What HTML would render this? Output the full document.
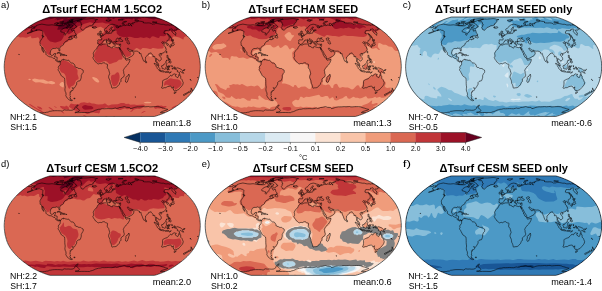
<!DOCTYPE html>
<html><head><meta charset="utf-8"><title>fig</title>
<style>html,body{margin:0;padding:0;background:#fff}svg{display:block;will-change:transform}text{font-family:"Liberation Sans",sans-serif;fill:#000}.t{font-weight:bold;font-size:10px}.l{font-size:9.8px}.s{font-size:8.5px}.k{font-size:6.6px}</style></head>
<body>
<svg width="602" height="291" viewBox="0 0 602 291">
<rect width="602" height="291" fill="#fff"/>
<defs><path id="coast" d="M31.9,8.6L34.8,7.7L37.7,7.1L39.7,7.5L42.6,8.0L44.8,8.1L47.9,7.8L49.2,8.0L52.2,8.6L54.8,8.8L57.5,8.9L59.3,8.7L61.5,7.0L62.1,7.3L62.2,8.0L63.0,8.6L64.6,8.0L65.8,8.0L65.4,9.1L63.2,9.6L61.9,10.7L59.8,11.2L57.5,12.6L56.4,13.9L56.7,14.9L58.5,15.3L59.5,15.9L60.8,16.1L60.0,17.5L60.6,18.3L61.5,17.7L61.7,16.4L63.5,15.2L64.2,13.5L64.9,11.9L66.5,12.0L67.9,12.6L67.5,13.9L68.4,14.2L69.9,13.0L70.4,14.3L70.5,15.6L71.7,16.7L72.1,17.8L70.6,18.4L69.7,18.9L67.8,18.9L66.3,19.3L64.3,20.7L66.0,19.9L67.3,19.6L67.0,20.6L67.2,21.4L68.5,21.3L68.3,21.9L66.7,22.5L65.6,22.9L65.8,22.0L65.1,22.1L63.6,22.8L63.0,23.5L63.2,24.0L62.1,24.3L61.0,24.7L60.7,25.4L59.9,26.0L59.4,26.9L59.3,27.8L58.4,28.5L57.2,29.2L55.8,30.3L55.5,31.4L55.7,33.1L55.5,34.1L55.0,34.0L54.5,32.6L54.7,31.7L54.0,31.2L53.3,31.4L52.3,31.0L51.4,31.1L51.1,31.7L50.1,31.5L48.8,31.5L47.6,32.2L46.8,32.9L46.2,34.9L45.9,36.2L46.4,37.7L47.1,38.3L48.2,38.4L49.1,38.1L49.7,36.8L50.8,36.5L51.6,36.6L51.0,38.0L50.7,38.9L50.2,39.9L51.7,39.9L53.0,40.4L52.9,42.0L52.6,43.1L53.3,44.1L54.1,44.3L54.8,43.8L55.7,44.1L56.1,44.6L55.8,45.3L54.9,44.3L54.3,45.2L53.3,44.7L52.5,44.2L51.5,43.6L51.5,42.6L50.7,41.7L49.7,41.4L48.6,41.1L47.7,40.2L46.9,39.7L45.8,40.0L44.5,39.4L43.3,38.7L42.3,38.0L41.6,37.2L41.9,35.9L41.0,34.6L40.2,33.4L39.7,32.5L39.1,31.2L38.4,30.2L38.1,31.2L38.7,32.5L39.1,33.7L39.5,34.8L39.7,35.5L39.4,35.4L38.6,34.3L37.8,33.0L37.7,31.8L37.4,30.3L37.3,29.4L37.0,28.8L36.0,28.4L35.9,27.2L35.9,26.4L35.7,25.4L35.8,24.8L36.7,23.2L38.0,21.3L38.5,20.0L39.4,19.9L39.5,19.4L38.9,18.7L38.3,18.1L38.6,17.2L38.5,16.4L38.6,15.5L38.7,14.5L38.3,14.0L37.6,13.9L37.2,13.3L35.8,13.2L35.0,12.7L33.6,13.1L32.4,13.5L31.5,13.7L33.0,12.6L31.9,13.0L30.4,13.9L28.6,14.6L26.6,15.5L24.6,16.1L22.9,16.4L24.9,15.6L26.9,14.8L28.6,14.0L27.7,13.9L27.2,13.5L27.6,13.0L26.8,12.6L27.9,11.7L29.1,11.4L30.6,11.1L30.9,10.6L29.6,10.7L29.3,10.3L29.0,10.0L30.9,9.6L31.7,9.7L32.2,9.2L31.9,8.7ZM72.6,3.8L73.4,4.5L74.2,4.8L76.4,4.8L76.8,5.8L77.0,7.3L77.9,7.8L76.7,8.6L76.9,9.6L76.1,10.4L76.7,11.5L77.0,12.5L78.3,13.1L79.1,13.3L79.8,12.4L80.8,11.4L81.7,10.4L83.1,10.0L85.2,8.8L87.3,8.6L89.0,7.8L88.6,7.0L89.7,6.6L89.9,5.8L90.9,5.3L91.3,4.3L90.8,3.7L91.8,3.0L93.4,2.5L91.1,2.3L90.0,1.9L87.5,1.6L84.5,1.9L81.8,2.1L79.1,2.1L77.2,2.5L75.5,2.9L75.4,3.3L72.6,3.8ZM64.6,6.1L66.3,5.9L68.0,5.9L68.9,6.4L69.8,7.0L70.6,7.5L71.4,8.1L71.4,8.8L72.7,9.5L72.7,9.9L71.3,10.2L70.7,11.2L69.5,11.9L68.8,11.6L67.9,11.1L67.1,10.7L65.7,10.8L65.9,10.2L67.9,9.6L68.9,8.7L67.8,8.3L67.1,7.8L66.0,7.8L64.6,7.8L63.7,7.4L63.9,6.8L64.6,6.1ZM53.4,6.4L55.1,6.3L56.8,6.4L58.6,6.1L57.9,7.0L58.3,7.8L56.8,8.4L55.2,8.4L52.9,8.5L52.1,8.1L52.3,7.5L54.1,7.1L53.4,6.4ZM50.1,6.8L52.1,5.7L53.7,5.6L54.5,6.1L52.5,6.9L50.7,7.1L50.1,6.8ZM65.5,4.5L67.2,4.6L69.3,4.6L70.7,4.1L72.1,3.4L74.4,3.0L76.5,2.5L77.9,2.0L76.2,1.9L73.0,1.8L69.7,2.1L67.5,2.5L69.2,2.8L67.5,3.7L68.3,3.9L66.6,4.2L65.5,4.5ZM63.0,5.1L64.2,5.4L66.3,5.5L68.6,5.4L69.0,5.0L67.3,4.9L66.0,4.7L64.3,4.6L63.0,5.1ZM55.3,5.1L56.7,5.5L59.1,5.3L59.8,4.8L58.7,4.5L56.5,4.6L55.3,5.1ZM64.6,3.8L66.7,3.8L68.4,3.2L67.8,2.6L66.0,2.9L64.6,3.8ZM59.3,6.5L60.9,6.9L61.9,6.3L63.3,6.4L64.3,5.8L62.8,5.7L61.1,5.9L59.3,6.5ZM62.2,10.2L63.4,10.2L64.2,11.0L62.9,11.6L62.1,11.2L62.2,10.2ZM69.6,20.4L70.5,19.3L71.6,18.1L72.0,18.4L71.6,19.0L72.2,19.3L72.6,19.9L72.7,20.6L72.2,21.0L71.3,20.9L70.7,20.5L69.6,20.4ZM37.7,18.5L38.7,18.7L39.1,19.9L38.4,19.8L37.8,19.0L37.7,18.5ZM52.7,36.3L53.9,35.5L55.0,35.4L56.0,35.9L57.0,36.4L57.7,37.0L58.4,37.3L57.6,37.5L56.5,37.5L56.8,37.0L56.1,36.8L55.1,36.2L54.4,36.0L53.5,36.2L52.7,36.3ZM58.1,38.3L58.8,37.5L59.8,37.5L60.6,37.6L61.4,38.3L60.5,38.4L59.8,38.8L59.1,38.5L58.1,38.3ZM56.0,38.4L56.7,38.3L57.1,38.6L56.6,38.8L56.0,38.4ZM62.0,38.4L62.8,38.4L62.7,38.6L62.0,38.6L62.0,38.4ZM56.0,44.5L56.3,44.8L56.9,43.9L57.2,43.1L58.0,42.8L59.0,42.3L59.5,42.1L59.2,42.9L59.4,43.1L60.2,42.6L61.0,42.9L62.3,43.2L63.2,43.4L64.5,43.1L65.0,43.9L65.5,44.5L66.3,45.4L67.1,46.0L68.1,46.0L69.0,46.3L69.9,47.0L70.3,47.9L70.8,48.8L70.7,49.7L71.6,50.0L71.9,50.5L73.0,50.5L73.8,51.3L75.2,51.5L76.3,51.5L77.4,52.2L77.9,52.7L78.9,53.1L79.1,54.4L78.9,55.6L78.0,56.5L77.5,57.6L77.0,58.7L77.1,60.2L76.8,61.4L76.2,63.2L75.7,63.9L74.4,64.0L73.4,64.5L72.5,65.5L72.5,67.2L71.9,68.2L71.1,69.6L70.5,70.7L69.8,71.3L68.7,71.0L67.9,70.7L68.7,71.6L69.0,72.4L68.7,73.3L67.8,73.7L66.8,73.8L66.9,74.9L65.6,75.0L66.3,75.9L65.9,76.5L66.1,77.4L65.4,78.2L66.4,79.1L66.0,80.1L65.6,80.9L66.3,81.9L65.8,82.0L66.6,82.3L67.7,83.1L68.3,83.3L67.7,83.6L66.8,83.7L65.3,83.0L64.1,82.2L63.2,81.3L62.2,79.8L61.6,78.5L61.9,77.4L61.6,75.6L61.0,74.4L60.7,72.9L60.8,71.6L61.0,70.1L60.7,68.2L60.6,66.7L60.6,64.5L60.5,62.4L60.3,61.1L59.6,60.5L58.5,59.8L57.5,59.2L56.8,58.2L56.3,57.1L55.6,55.9L54.9,54.4L54.1,53.4L53.9,52.5L54.4,51.8L54.5,51.1L54.0,50.3L54.4,49.3L55.1,48.9L55.4,48.1L56.0,47.4L56.0,46.3L56.0,45.4L55.7,45.2L56.0,44.5ZM69.5,81.3L70.9,81.2L70.8,81.8L69.8,81.8L69.5,81.3ZM95.2,27.5L94.8,27.1L94.3,26.8L93.5,26.9L93.6,26.0L93.3,25.8L93.7,24.5L93.5,23.2L94.1,22.8L95.6,22.9L97.2,23.0L97.5,22.3L97.5,21.4L97.0,20.7L95.8,20.0L96.6,19.7L97.3,19.8L97.2,19.2L98.1,19.3L98.8,18.5L99.7,18.2L100.1,17.5L100.4,17.1L101.3,16.9L102.0,16.8L102.0,16.1L101.7,14.9L102.3,14.8L102.7,14.5L102.7,15.4L102.5,15.9L103.0,16.7L103.5,16.5L104.5,16.7L105.6,16.4L106.5,16.2L107.1,16.4L107.6,15.9L107.4,14.9L108.0,14.5L108.9,14.8L108.8,14.2L108.3,13.6L109.4,13.5L110.3,13.4L111.1,13.2L110.4,12.9L108.9,13.0L108.0,13.3L107.3,12.8L107.1,12.1L107.5,11.2L108.4,10.4L107.9,10.0L107.1,10.0L106.9,10.7L106.1,11.4L105.5,12.1L105.5,12.8L106.2,13.2L106.0,13.8L105.4,14.5L105.4,15.2L104.6,15.5L104.5,15.8L103.9,15.8L103.7,15.2L103.0,14.0L102.6,13.5L102.2,13.8L101.6,14.3L100.9,14.2L100.5,13.8L100.2,12.9L100.2,12.1L101.0,11.5L102.0,11.1L102.8,10.4L103.3,9.6L103.9,8.8L104.8,8.3L105.5,7.8L106.6,7.5L108.0,7.2L109.1,7.4L110.1,7.6L110.0,7.9L111.3,8.1L112.8,8.5L114.3,9.0L114.8,9.5L114.4,9.8L113.1,9.7L112.1,9.6L111.5,9.6L112.3,10.2L112.5,10.7L113.7,11.0L113.8,10.5L114.7,10.6L114.4,10.2L115.2,9.7L116.1,9.8L115.6,9.1L115.6,8.6L116.7,8.8L116.7,9.4L117.4,9.1L119.1,8.5L120.4,8.6L121.7,8.5L121.8,7.9L123.3,8.2L124.7,8.5L125.5,8.6L124.3,7.8L123.9,7.0L124.1,6.4L125.5,6.4L126.2,7.3L126.7,8.6L127.9,9.1L126.6,7.8L126.5,6.8L126.8,6.6L127.8,6.8L129.1,6.9L128.2,6.0L130.1,5.9L130.0,5.3L131.4,4.9L133.3,4.7L134.0,4.3L134.7,4.0L136.1,4.3L137.9,4.5L139.4,5.1L138.7,5.5L140.0,5.9L142.2,6.0L144.0,5.9L145.6,6.0L147.2,6.5L147.9,7.3L148.8,7.0L150.3,7.0L151.2,6.6L151.4,6.4L153.6,6.6L155.7,7.0L157.1,7.3L159.2,7.3L160.9,7.9L162.5,8.0L163.9,7.8L165.6,8.3L165.9,7.9L167.7,8.0L169.4,8.4L172.5,10.4L172.3,10.7L171.5,10.6L173.8,11.5L174.3,11.9L173.1,12.1L172.4,12.4L172.1,13.2L170.5,13.0L169.5,13.3L170.2,14.2L170.3,14.5L171.2,15.2L171.6,16.1L171.9,17.1L171.4,17.4L171.6,18.4L170.2,17.2L168.3,15.5L167.7,14.5L167.8,13.5L168.2,12.4L167.7,11.8L166.7,12.2L165.2,12.2L165.4,13.3L164.4,13.8L162.0,13.6L160.5,13.7L160.0,14.9L159.7,16.2L161.1,16.8L162.3,16.7L163.4,17.2L164.0,18.4L165.1,20.0L165.0,21.1L164.8,22.3L164.2,23.2L163.1,23.4L162.6,23.9L162.8,24.5L162.3,25.1L162.2,25.4L163.1,26.1L164.0,27.0L164.3,28.0L163.8,28.3L163.1,28.5L162.6,27.5L162.5,26.7L161.5,26.4L161.1,25.4L160.5,25.1L159.4,25.7L159.1,24.8L158.4,24.6L157.6,25.6L157.6,26.0L158.4,26.6L159.3,26.4L160.4,26.8L159.8,27.2L159.3,28.0L160.3,29.1L161.4,30.3L161.0,31.0L161.9,31.4L162.0,32.5L161.4,33.8L160.7,34.6L160.0,35.5L158.8,36.0L157.8,36.3L157.0,36.6L156.9,37.2L156.6,36.5L155.8,36.3L155.1,37.1L154.8,38.0L155.6,39.2L156.6,40.2L157.1,41.7L157.1,42.6L156.2,43.3L155.9,43.4L155.2,44.3L154.9,43.6L154.0,43.1L153.3,42.2L152.5,41.7L152.1,41.4L152.1,42.6L151.9,43.7L152.5,44.5L152.9,45.5L153.6,45.9L154.3,47.0L154.4,48.1L154.8,48.9L154.4,48.9L153.2,48.0L152.7,46.6L152.3,45.5L151.4,44.7L151.5,43.6L151.5,42.3L150.8,40.8L150.6,39.6L149.7,39.4L148.8,39.9L148.8,38.6L148.1,37.5L147.1,36.5L146.9,35.9L146.3,36.0L145.5,36.3L144.5,36.6L144.3,37.4L143.6,37.7L142.3,39.4L141.3,40.2L141.4,41.4L141.2,42.5L141.1,43.4L140.5,44.2L140.1,44.7L139.4,43.9L138.6,42.1L138.1,40.5L137.3,38.9L137.0,37.7L136.9,36.8L136.6,36.3L135.9,36.9L134.8,36.0L135.5,35.6L134.5,35.2L133.6,34.4L132.2,34.1L130.6,34.2L129.3,34.0L128.4,33.8L127.9,33.1L127.0,33.3L125.7,32.8L124.7,31.8L124.2,31.1L123.5,31.0L123.2,31.4L123.7,32.5L124.4,33.3L124.8,34.0L125.0,33.8L125.4,34.3L125.4,34.7L126.7,34.9L127.4,34.0L127.8,33.6L128.1,34.6L129.3,35.2L129.9,35.9L129.3,37.1L129.0,38.0L128.4,38.6L127.6,39.2L126.2,39.9L124.5,40.9L123.2,41.5L122.4,41.8L121.6,41.9L121.1,40.6L121.0,39.6L120.0,38.1L119.0,36.6L118.3,35.1L117.5,33.7L116.5,32.5L116.3,31.5L116.1,32.6L115.6,32.2L115.1,31.2L114.9,30.5L115.9,30.4L116.2,29.5L116.4,28.5L116.4,27.5L116.5,27.0L115.7,27.0L115.2,27.4L114.4,27.2L113.6,27.2L112.8,27.2L112.1,27.0L111.7,26.3L111.4,26.0L111.5,25.4L111.2,25.1L111.4,24.8L112.5,24.5L113.7,24.3L114.7,23.9L115.5,23.9L116.2,24.3L117.3,24.5L118.2,24.5L118.8,24.1L118.5,23.4L117.5,22.8L116.7,22.3L116.1,21.8L116.6,21.3L116.9,20.7L116.2,20.9L115.1,21.2L115.9,21.8L115.2,22.1L114.5,22.3L113.9,21.8L114.3,21.4L113.4,21.1L112.9,21.1L112.5,21.7L112.1,22.3L111.9,23.1L111.8,23.7L112.1,24.2L112.5,24.5L111.4,24.8L111.0,24.6L110.0,24.6L109.8,25.0L109.4,24.8L109.5,25.4L110.2,26.3L109.7,26.4L109.9,27.2L109.4,27.2L109.1,27.0L108.8,26.4L108.8,26.0L108.1,25.3L107.8,24.8L107.8,24.0L107.2,23.5L106.4,23.1L105.6,22.5L105.1,21.9L104.7,21.7L104.0,21.8L104.1,22.5L104.7,22.9L105.1,23.6L106.0,23.9L106.0,24.2L107.1,24.6L107.3,25.0L107.2,25.1L106.6,24.8L106.4,25.2L106.7,25.7L106.4,26.1L106.0,26.3L106.1,25.8L105.9,25.1L105.3,24.6L104.3,24.2L103.5,23.5L103.1,22.9L102.4,22.4L101.7,22.8L101.0,23.2L100.0,23.0L99.6,23.2L99.6,24.0L98.4,24.6L97.9,25.4L98.2,25.8L97.7,26.3L97.1,27.0L95.9,27.1L95.2,27.5ZM26.7,8.4L27.4,8.7L27.9,9.2L28.4,9.9L26.5,10.7L25.0,10.7L24.8,10.2L23.6,10.4M121.1,22.3L120.8,21.7L121.8,21.1L122.7,20.8L123.7,21.1L123.9,21.9L123.1,22.3L122.7,22.5L123.2,23.1L124.1,23.5L124.3,24.2L124.9,24.6L124.7,25.1L125.3,26.0L125.5,26.7L124.6,27.0L123.6,26.7L122.9,26.1L122.8,25.4L123.1,24.8L122.5,24.3L121.7,23.4L121.1,22.3ZM95.4,19.0L96.4,18.8L97.1,18.6L98.3,18.5L98.7,18.3L98.4,18.1L98.8,17.4L98.2,17.2L98.0,16.9L97.5,16.3L97.3,15.8L96.9,15.5L97.2,14.6L96.5,14.5L96.6,14.0L95.8,14.0L95.5,14.6L95.5,15.4L95.9,15.8L95.8,16.2L96.5,16.1L96.7,16.7L96.6,17.1L96.0,17.1L96.1,17.7L95.6,17.9L96.3,18.1L96.6,18.2L96.0,18.4L95.4,19.0ZM95.2,17.7L95.3,17.1L95.5,16.4L95.1,16.0L94.3,16.0L94.2,16.4L93.5,16.5L93.7,17.1L93.6,17.5L93.3,17.9L94.1,18.1L95.2,17.7ZM88.2,10.2L88.9,9.7L89.6,10.1L90.7,9.8L91.5,9.7L92.1,10.0L92.4,10.4L91.8,10.8L90.5,11.3L89.4,11.2L88.6,11.0L88.9,10.6L88.1,10.5L88.9,10.3L88.2,10.2ZM101.9,3.7L101.8,3.1L103.5,3.0L104.8,2.8L107.2,3.0L106.3,3.3L105.3,3.6L105.6,4.0L104.1,4.5L103.2,4.1L101.9,3.7ZM117.8,7.0L118.1,6.4L118.7,5.8L118.5,5.2L119.7,4.7L121.2,4.4L122.4,4.4L122.0,4.9L120.4,5.2L119.6,5.8L119.2,6.4L120.4,7.4L119.2,7.4L118.5,7.2L117.8,7.0ZM130.7,3.4L130.6,2.8L131.2,2.5L133.5,3.2L134.5,3.7L133.0,3.9L130.7,3.4ZM148.1,5.1L149.0,4.8L151.2,5.1L152.9,5.2L151.7,5.4L150.1,5.5L148.1,5.1ZM166.9,7.2L167.2,7.0L167.8,7.3L166.9,7.2ZM113.9,2.9L115.4,2.7L117.4,2.6L118.9,2.8L117.0,3.0L113.9,2.9ZM104.4,26.3L105.9,26.1L105.7,27.1L104.4,26.5L104.4,26.3ZM102.1,24.5L102.8,24.5L102.9,25.6L102.3,25.7L102.1,24.5ZM102.3,23.5L102.7,23.2L102.7,24.2L102.4,24.1L102.3,23.5ZM110.1,27.8L111.5,28.0L110.6,28.2L110.1,27.8ZM114.6,28.1L115.7,27.8L115.4,28.3L114.9,28.4L114.6,28.1ZM95.0,27.7L96.0,28.0L97.0,28.1L98.0,27.6L99.6,27.0L101.1,27.0L102.4,27.0L103.1,26.7L103.7,26.9L103.4,27.8L103.7,28.8L103.3,28.9L104.0,29.3L104.8,29.4L106.0,29.8L106.3,30.4L107.2,30.7L108.0,31.0L108.5,30.6L108.4,29.8L109.2,29.4L110.1,29.8L111.1,30.2L112.4,30.5L113.2,30.7L114.2,30.3L114.9,30.5L115.1,31.2L115.6,32.5L116.3,33.8L116.9,34.9L117.0,35.5L117.7,36.2L117.9,36.8L118.0,38.1L118.7,38.6L119.3,40.2L120.3,40.8L121.0,41.5L121.5,42.0L121.3,42.6L122.2,43.3L123.5,42.8L124.6,42.8L125.8,42.4L125.7,43.3L125.2,44.8L124.4,46.3L123.1,48.2L122.0,49.1L120.9,50.5L120.1,51.5L119.5,52.6L119.1,53.7L119.5,54.7L119.5,56.2L120.0,57.4L120.0,58.7L119.6,59.7L118.7,60.3L117.8,61.0L116.8,61.9L116.7,63.0L116.9,64.2L116.0,65.3L115.4,65.8L115.3,66.7L115.0,67.5L114.3,68.2L113.7,69.0L112.7,69.9L111.7,70.6L110.4,70.8L109.4,70.8L108.3,71.2L107.6,70.9L107.5,70.0L107.2,68.8L106.7,67.4L106.1,66.4L105.9,64.8L105.7,63.5L105.1,62.1L104.5,60.8L104.4,59.6L104.8,58.1L105.5,56.8L105.2,55.3L104.7,53.7L104.6,52.8L104.0,52.1L103.2,51.0L103.0,50.2L103.2,49.1L103.4,47.9L103.2,47.3L102.6,47.0L101.6,47.1L100.8,46.3L100.2,45.8L99.1,45.8L98.0,46.2L97.0,46.8L96.1,46.5L95.1,46.6L94.0,47.0L93.2,46.5L92.1,45.5L91.3,45.1L90.8,44.2L90.2,43.3L89.4,42.3L89.0,41.4L88.6,40.7L89.2,39.9L89.4,38.6L89.3,37.7L89.0,36.8L89.5,35.2L90.1,34.3L90.7,33.4L91.5,32.5L92.5,31.8L93.0,30.9L93.0,30.2L93.7,29.2L94.5,28.7L95.0,27.7ZM124.7,57.1L125.2,59.2L124.7,60.2L124.2,62.1L123.5,63.9L123.0,65.1L122.0,65.5L121.4,65.0L121.2,63.6L121.8,62.1L121.7,60.5L122.3,59.6L123.4,59.2L124.0,58.2L124.7,57.1ZM141.4,43.7L142.1,44.5L142.5,45.2L142.1,46.0L141.6,46.0L141.4,44.8L141.4,43.7ZM156.3,37.8L157.2,37.4L157.5,37.7L156.9,38.4L156.3,37.8ZM162.0,35.5L162.2,34.3L162.6,34.3L162.6,35.2L162.5,36.2L162.0,35.5ZM165.8,30.4L165.1,29.4L165.4,28.9L165.5,28.6L166.0,27.9L167.2,27.7L167.6,27.5L167.6,26.7L168.0,27.0L168.5,26.5L168.4,25.4L168.0,24.6L168.5,24.2L169.3,25.1L169.7,25.7L169.5,26.3L169.9,27.0L170.1,27.7L169.8,28.1L169.4,28.3L168.5,28.4L168.5,28.6L168.1,29.1L167.5,28.5L166.8,28.5L167.4,28.9L167.0,29.4L166.3,29.1L166.3,29.5L166.4,30.4L165.8,30.4ZM167.8,24.2L167.2,23.1L167.7,22.9L167.1,21.8L168.4,22.5L169.7,23.0L169.0,23.4L169.2,23.9L168.1,23.5L168.2,24.0L167.8,24.2ZM167.0,21.4L166.1,20.2L165.0,18.7L164.0,17.5L163.3,16.5L164.4,17.4L165.3,18.4L166.5,19.4L166.2,19.7L166.7,20.6L167.4,21.0L167.0,21.4ZM162.7,38.3L163.6,38.3L163.8,39.2L163.6,40.0L163.9,41.1L165.1,41.7L165.0,41.9L164.2,41.3L163.4,41.3L163.1,40.8L162.7,40.2L162.8,39.6L162.7,38.3ZM164.3,45.4L164.8,44.5L165.7,44.5L166.1,43.7L166.7,44.5L166.8,45.4L166.3,46.2L165.7,45.9L165.4,45.2L164.8,45.1L164.3,45.4ZM164.1,42.5L164.8,42.6L164.7,43.6L164.2,43.3L164.1,42.5ZM165.3,42.0L165.9,42.1L165.9,42.9L165.7,43.4L165.4,42.8L165.3,42.0ZM161.7,44.5L162.8,42.8L162.9,43.3L161.9,44.6L161.7,44.5ZM157.4,48.8L157.8,48.5L158.6,48.8L158.8,48.1L159.6,47.7L160.1,47.0L160.9,46.5L161.5,45.4L162.0,45.8L162.9,46.5L162.3,47.1L162.1,47.9L162.3,49.1L162.1,49.7L161.5,50.7L161.5,51.6L161.2,52.2L160.4,52.3L159.6,51.7L158.7,51.8L157.9,51.5L158.0,50.7L157.4,50.0L157.4,48.8ZM149.9,46.3L151.1,46.5L151.7,47.3L152.8,48.4L153.3,48.6L154.2,49.4L154.5,50.3L155.0,50.8L155.7,51.7L155.6,53.4L154.9,53.3L153.7,52.2L153.0,51.3L152.7,50.3L152.0,49.4L151.8,48.7L150.8,47.7L149.9,46.3ZM155.3,53.9L155.8,53.4L157.0,53.8L158.3,53.7L159.3,54.0L160.2,54.5L160.1,55.1L158.3,54.8L156.7,54.5L155.9,54.3L155.3,53.9ZM163.0,53.1L163.0,51.9L162.7,51.5L163.3,49.9L163.4,49.2L163.9,48.9L165.0,49.1L166.1,48.7L165.8,49.5L164.5,49.4L163.6,49.4L163.5,50.3L164.2,50.3L165.2,50.3L164.9,50.7L164.2,50.9L164.6,51.8L165.0,52.3L164.9,53.1L164.4,52.7L164.1,52.6L163.9,51.4L163.6,51.9L163.5,53.1L163.0,53.1ZM165.0,56.1L165.9,55.3L167.1,54.9L166.1,55.7L165.0,56.1ZM161.0,55.0L162.1,54.8L163.2,54.9L164.7,54.8L164.7,55.2L163.2,55.2L162.1,55.2L161.0,55.2L161.0,55.0ZM167.5,48.5L167.8,49.4L168.0,50.2L167.8,49.5L168.1,48.8L167.5,48.5ZM167.7,51.6L169.3,51.6L168.8,52.0L167.7,51.8L167.7,51.6ZM169.4,50.2L170.2,50.0L171.0,50.2L171.1,51.0L171.5,51.8L172.4,51.1L172.9,50.7L173.7,51.0L174.8,51.3L175.9,51.8L176.7,52.1L177.4,52.8L178.2,53.4L178.3,54.4L178.8,55.3L179.7,56.2L178.8,56.1L178.0,55.9L177.3,55.0L176.3,54.5L175.8,55.2L175.4,55.4L174.6,55.3L173.8,54.8L173.2,54.8L173.0,54.0L173.5,53.7L173.0,53.0L172.0,52.6L171.2,52.2L170.4,52.2L170.3,51.5L170.9,51.1L169.9,51.0L169.4,50.2ZM178.8,53.2L179.9,53.1L180.8,52.3L180.8,52.8L179.9,53.6L178.8,53.2ZM158.6,63.6L158.3,64.8L158.4,66.1L158.3,67.6L158.1,69.2L157.3,70.9L157.9,71.3L158.6,71.3L159.9,70.7L161.7,70.7L162.5,70.1L163.4,69.6L165.1,69.3L166.2,69.2L166.9,69.5L167.5,70.0L167.7,71.2L168.4,70.7L169.4,69.9L168.8,71.3L169.0,71.7L169.4,71.9L169.1,73.0L169.6,73.4L170.5,73.7L171.4,73.2L171.9,73.8L173.1,73.1L174.3,72.7L175.2,71.6L176.0,70.7L177.2,69.6L177.8,68.8L178.7,67.3L179.0,65.8L179.0,65.1L178.3,64.2L178.2,63.6L177.7,62.4L177.0,61.7L176.5,61.4L176.5,60.5L176.5,59.0L176.0,58.5L175.5,58.5L175.6,57.4L175.3,56.4L174.9,57.1L174.6,58.1L174.3,59.3L173.8,60.5L173.0,60.5L172.3,59.9L171.3,59.3L171.1,58.9L171.5,58.1L172.1,57.3L171.1,57.3L169.9,56.8L169.2,57.3L168.6,57.5L168.1,58.4L167.9,59.0L167.3,58.9L166.6,58.3L165.8,58.7L165.1,59.6L164.4,60.3L163.7,60.8L163.0,61.8L161.7,62.1L160.6,62.5L159.7,63.0L159.0,63.2L158.6,63.6ZM170.4,74.8L171.2,75.1L172.1,74.9L171.7,75.6L170.8,76.3L170.0,76.6L170.0,75.9L170.4,74.8ZM186.9,70.9L187.1,71.4L187.2,72.1L187.6,72.4L187.4,72.9L188.0,73.1L188.7,73.0L187.9,73.8L187.2,74.0L186.7,74.6L185.3,75.4L185.3,75.1L185.9,74.5L185.8,74.1L185.6,74.0L186.5,73.3L186.9,72.7L187.0,71.9L186.9,70.9ZM184.5,74.7L184.8,75.0L184.7,75.5L183.5,76.2L183.0,76.7L182.0,77.0L181.0,78.0L180.0,78.4L179.4,78.3L178.9,78.0L179.6,77.4L180.8,76.8L181.9,76.3L183.0,75.7L183.9,75.0L184.5,74.7ZM185.8,62.2L186.9,63.2L187.0,63.5L186.3,63.1L185.8,62.2ZM14.6,37.3L15.1,37.5L14.6,38.0L14.6,37.3ZM130.8,79.8L131.5,80.0L131.0,80.3L130.8,79.8ZM193.3,60.5L194.0,60.6L193.6,61.0L193.3,60.5ZM35.3,95.7L38.4,95.8L40.6,95.7L42.1,95.3L44.0,95.1L44.9,94.4L46.7,94.2L48.2,93.9L50.4,93.7L53.4,93.7L56.2,93.8L58.4,94.2L59.2,93.2L60.1,92.9L62.2,93.2L64.0,93.1L66.1,93.3L67.9,93.2L69.2,92.9L69.8,92.2L70.9,91.4L70.9,90.4L71.4,89.6L72.3,88.8L73.4,88.1L74.1,88.2L73.5,88.8L72.9,89.2L72.6,89.8L72.2,90.6L73.6,91.4L74.4,92.4L75.2,93.2L75.1,93.9L74.8,94.4L73.0,94.9L70.9,95.3L73.7,95.7L77.0,95.5L80.5,95.5L83.4,95.6L85.5,95.6L86.3,95.1L88.3,94.6L89.9,93.9L91.3,93.2L92.7,92.8L94.2,92.3L96.1,92.2L98.0,91.7L100.0,91.8L102.0,91.7L103.9,91.6L105.9,91.7L107.8,91.8L109.9,91.3L111.2,91.0L112.2,91.4L113.9,91.2L115.3,90.5L117.0,90.4L118.3,90.1L120.2,89.6L121.2,89.9L122.2,90.3L123.8,90.4L125.3,90.5L125.9,90.9L126.3,91.6L127.6,91.4L129.2,90.8L130.3,90.4L131.7,90.1L133.5,89.8L134.6,89.9L136.7,89.8L139.0,89.6L140.8,89.8L143.1,89.6L144.4,89.5L145.6,89.9L146.8,89.9L149.1,89.7L151.3,89.6L153.3,89.6L155.1,89.8L156.0,90.1L156.7,90.5L157.9,90.8L159.4,91.2L160.7,91.7L161.5,91.9L162.6,92.2L163.6,92.4L162.1,93.2L159.7,93.9L157.5,94.6L156.1,95.5L156.6,95.7L159.3,95.6L160.8,95.7"/><path id="bnd" d="M150.23,99.46L152.05,98.96L154.15,98.27L156.48,97.43L158.97,96.45L161.55,95.35L164.06,94.17L166.37,92.94L168.51,91.68L170.56,90.37L172.54,89.03L174.47,87.66L176.35,86.26L178.17,84.84L179.92,83.39L181.59,81.93L183.15,80.44L184.58,78.95L185.92,77.44L187.21,75.92L188.41,74.39L189.50,72.85L190.48,71.31L191.38,69.77L192.18,68.23L192.87,66.69L193.45,65.15L193.93,63.61L194.35,62.06L194.76,60.52L195.12,58.98L195.42,57.44L195.65,55.90L195.83,54.36L195.96,52.81L196.05,51.27L196.10,49.73L196.05,48.19L195.96,46.65L195.83,45.11L195.65,43.56L195.42,42.02L195.12,40.48L194.76,38.94L194.35,37.40L193.93,35.86L193.45,34.31L192.87,32.77L192.18,31.23L191.38,29.69L190.48,28.15L189.50,26.61L188.41,25.07L187.21,23.55L185.92,22.03L184.58,20.52L183.15,19.02L181.59,17.53L179.92,16.07L178.17,14.62L176.35,13.20L174.47,11.80L172.54,10.43L170.56,9.09L168.51,7.78L166.37,6.52L164.06,5.29L161.55,4.11L158.97,3.01L156.48,2.03L154.15,1.19L152.05,0.50L150.23,0.00L45.87,0.00L44.05,0.50L41.95,1.19L39.62,2.03L37.13,3.01L34.55,4.11L32.04,5.29L29.73,6.52L27.59,7.78L25.54,9.09L23.56,10.43L21.63,11.80L19.75,13.20L17.93,14.62L16.18,16.07L14.51,17.53L12.95,19.02L11.52,20.52L10.18,22.03L8.89,23.55L7.69,25.07L6.60,26.61L5.62,28.15L4.72,29.69L3.92,31.23L3.23,32.77L2.65,34.31L2.17,35.86L1.75,37.40L1.34,38.94L0.98,40.48L0.68,42.02L0.45,43.56L0.27,45.11L0.14,46.65L0.05,48.19L0.00,49.73L0.05,51.27L0.14,52.81L0.27,54.36L0.45,55.90L0.68,57.44L0.98,58.98L1.34,60.52L1.75,62.06L2.17,63.61L2.65,65.15L3.23,66.69L3.92,68.23L4.72,69.77L5.62,71.31L6.60,72.85L7.69,74.39L8.89,75.92L10.18,77.44L11.52,78.95L12.95,80.44L14.51,81.93L16.18,83.39L17.93,84.84L19.75,86.26L21.63,87.66L23.56,89.03L25.54,90.37L27.59,91.68L29.73,92.94L32.04,94.17L34.55,95.35L37.13,96.45L39.62,97.43L41.95,98.27L44.05,98.96L45.87,99.46Z"/><clipPath id="clip"><use href="#bnd"/></clipPath></defs>
<g transform="translate(4.2,17.0)">
<g clip-path="url(#clip)">
<use href="#bnd" fill="#f09c7b"/>
<path d="M46.2 99.5l104 0 5.8-1.9 6.1-2.5 4.7-2.4 4.2-2.6 5.4-3.8 4.9-4.1 3-3 3.6-4.2 2.2-3.1 2.1-3.7 1.5-3.7 1.4-5.5 .7-4.3 .3-5-.2-4.3-.7-4.3-1.4-5.6-1.3-3.7-3.2-5.5-3.9-4.9-4.1-4.2-5.7-4.6-6.3-4.3-5.2-3-7.1-3.1-6.8-2.2-104.3 0-5.8 1.9-6.1 2.4-3.8 2-3.4 2-4.8 3.2-4.4 3.4-5.8 5.3-3.2 3.7-2.2 3-1.8 3.1-1.5 3.1-1 3.1-1.2 4.9-.6 3.7-.3 4.3 .5 6.8 .6 3.7 1.2 4.3 1.9 4.9 1.8 3.1 2.2 3.1 5.4 6 6.9 5.8 4.6 3.3 4.2 2.6 3.7 1.9 5.1 2.3 4.7 1.7ZM141.4 86.3l-1.9-.6 1.3-.6 2.2-.3 3.5 .2 .6 .3 0 .4-1.6 .5ZM57.8 70.1l-2-1.3-.6-1.2 .2-.6 1-1.2 1.4-.7 1-.1 .6 .8 .4 1.2-.2 2.5-.3 .7-.5 .2ZM46.3 67l-2-.6-2.1 .4-1 0-4.5-1.3-1.7-.2-3.6 .2-1.9-1-1.5-1.2-.3-.6 1.3-.8 1.5-.4 4.5 .9 4.3 .1 4.6 2 2.5-.6 1.1 .1 2.7 1.1 .7 .7 .1 .6-2.3 .9-1.1 0ZM92.1 65.1l-1.5-1-2.2-2.7-.4-.6 .1-.6 1.3-.1 3.3 1.1 1.4 1.5 1 1.8-.2 .6-.6 .3-1 .1ZM24.3 62.7l-.1-.6 1-.3 .8 .3 .9 .6-1.4 .5ZM145 39.2l-.2-.6 .3-.6 1.1-.3 .8 .3 .5 .6 .1 .6-.6 .4Z" fill="#da6853" fill-rule="evenodd"/>
<path d="M80.9 99.5l1.9 0-3.1-1.5-.8 .1 .4 .5ZM100.4 99.5l3.3 0-1.4-.5-2.1 .5ZM108.5 99.5l2.4 0-.1-.3-.8-.2ZM135.4 99.5l2.2 0 .6-.4-.7-.1ZM71.9 97l.2-.1-.4-.9-1-.9-.6-.2-.1 .2 .4 .9ZM82.8 96.9l.7 .1 3.4-1.4 1.6-.2 1.1 0 1.9 .5 1.7 0 1.5 .7 .9-1 .5-2.4 1.2-1.2 .7-.5 1.6 0 2-.9 .9-.1 4.1 1.3 2.9-.4 1.5 .1 2.7 1.2 1.4 .4 1.2-.2 3.8-1.5 1.1 .1 1.5 .8 2.1-.3 3 .3 .3 .4-1.7 1.5-.3 .6 .3 .1 1.6-.7 1.4-1.5 1.4-.5 2.4-.5 1.9 .2 1.8-.4 2.4-1.4 1.1-1.1 .2-.5-.4-.6-1.4-.3-6.1 .4-2.7-.5-3.9 .2-1.7-1-2.7 .2-1.8-.9-1.3-.1-1.8 .2-3.3 1.1-6.1 .2-2.2 .8-1.3 .2-.8-.3-2-1.5-.9 0-1.7 .6-4.3 .2-2.1-.2-2.3-.7-2.2 0-2.3-1-2.1 .5-3.3-.7-3.3 .5-1.7 1.2-.8 .2-3.8 .1-2.5-.6-.9-.1-.9 .6-1 1.8-.2 .6 .2 .5 5.1 3.1 4.5 1.9 2-.1 3.3 .6ZM59 96.2l1 .2 0-.4-1.2-.9-1.9-.7 .5 .7ZM137.1 96.1l.1 .2 .5-.1 2.4-1.1 1.3-.9-.1-.3-.8 0-1.6 .7ZM39 95.8l1.3 .1-3.6-2.7-3.3-1.5-6.8-4.3-1.3-.6-.5 .1 .2 .5 2 1.6 5.5 3.2 2.4 1.9ZM49.8 94.3l.6-.1-2.8-2.8-2.1-1.2-1.1-.1 .1 .5 .7 .6ZM64.1 92.7l.7-.1 .1-.2-.5-2.3-2.1-1.3-.5-.2-.7 .8-.7 .2-3.4-.7-.9 .1-.3 .5 .6 1.1 2.3 1.6 1.3 .3 2.1-.3ZM35.8 92.2l1.9 .2 .4-.2 0-.3-.4-.7-1.5-1.1-2.2-.7-1.3 .2 .2 .5 .5 .5ZM150.9 91.7l.7 .1 2.1-.5 1.3 .2 2.4-.6 .2 .1 .3 .7 .8 0 2.5-1.1 .8-.5 .4-.5 0-.4-.9-.3-2.6 .4-1.3-.9-2.4 .3-1.4-.4-.9 .1-1.4 .6-1.5 1.1-.1 .5 .2 .4ZM166.8 91.5l1.9-.4 2.1-1 1.5-1.1 .1-.5-.7 0-1.4 .5-1.9 1.1ZM52.2 90.9l.5 0-1-1-1.6-.8-.4 0 1 1ZM170.5 72.2l.4 .2 .6 0 .9-.5 2.8-2 1.6-1.7 .6-1.2-.1-1.1-.6-1.4-1.2-1.2-1.6-.8-4.7-.5-2.5-.8-1.1 .3-4.9 3-.5 1.3-.4 1.8 0 .6 .3 .5 1.9-.9 1 0 4.1 1.7 2.3 .7 .6 .5ZM64.7 71.6l.6 .1 .4-.2 .7-1.4 .5-.5 2.6-1.4 1.2-1.6 .8-2.7 .5-.6 2-1.1 .4-.8 0-.6-1.2-3.7 .2-3.7-1.2-1.8-3.5-3.7-2.2-1.2-2.6-1.9-4.3-1.5-1.1-.1-1.1 .6-1 1.6-1.1 4.3 0 2.5 1.5 2.9 .6 .5 2.2 .7 .8 .8 .8 1.3 .4 1.2 .9 6.8 1.5 4.2ZM109 69l1.5 .3 1.9-1.1 1-1.2 1.6-3.7 .4-3.1-.1-1.8-.5-1.9-.5-.8-.5-.4-.6 0-1.1 .5-1.6 1.6-2.7 .5-.8 1.1-.3 1.8 .4 3.5 .9 3.3ZM105.1 46.9l1.7-.1 3.2-1.3 2.2-.4 2.6-2.3 2.7-.3 .6-.6 .2-.8-.1-3.1 .2-.9 .5-.1 2.8 2.3 1.1 .6 1.1-.2 2.3-1.1 .7-.6 .2-1.2-.3-.8-1.7-1.3-.6-.9-.1-.8 .5-.5 2.2 1.1 1.1 .2 1.7-.7 2.1-2.1 1.4 .2 2.6 1.5 .8-.2 1.5-1.4 1-.1 3.2 .3 3.3 .8 1.1-.1 1.3-.9 1-.2 4.4 .8 4.6-.3 .9-.5 .4-.6-.6-3.4 .3-1 .8-.3 1.5-.2 1.4-1.1 .8-.2 4.3 .5 .5-.9-.2-3.1 .4-.7 .6-.5 1.4 0 4.4 1.2 3.8 1.8 .4-.1 .4-1.9 .8-.7 1.1-.4 2 .2-3-2.8-4.2-3.5-4.6-3.3-5-3.1-3.7-2-4.1-1.8-4.8-1.8-4-1.2-104.3 0-4 1.2-4.8 1.8-4.1 1.8-3.7 2-5 3.1-4.6 3.3-4.2 3.5-3.1 2.8 1.9 .1 1.5 1 2.6-.3 3.5 .5 1.1-.2 2.4-1.2 1.1-.2 .4 .4 .2 1.3 .7 .4 3-.2 3-.9 .6 .6 .8 1.2 0 3.3 .4 1.2 1.5 1.2 2.4 2.9 1.6 2.5 1.8 3.7 1.6 1.2 1 .4 .7-.4-.1-4.3 .5-1.2 .5-.7 1.2-.4 3.3-.6 2.6 .1 1.1-.4 5-4.2 3.8-2 3.5-3.1 3.2-1.3 3-3.5 2.7-1.2 5.6-3.9 1.4-.6 2.6-.6 .8 0 1.9 1 .9 0 2.9-.3 3.8-1 .7 .1 1.8 1.3 1.3 .3 .4 .6 .1 .5-1.3 2.9-2.2 1.7-.3 .6 0 3-.3 1.2-.6 .6-1.4 .7-.7 1.2-.1 1.2 .5 2.4-2.4 5.6-1.7 3.1-.3 1.8 .2 2.5 1.1 2.5 1.4 1.4 1.1 .7 1.1 .1 1.6-.2 3.3-1.3 1.6-.2 1.6 .7 1.7 1.8ZM108 31.2l-1.6-.5-3.7-2.9-3.6-1.1-.3-.4 .1-.6 1.1-1.9 1.5-.8 1.8 .2 6.4 3.5 2.7 .7 3 .1 .8 .6 .3 .7-.3 .9-1 .7-3 .7-2.7-.1Z" fill="#c13639" fill-rule="evenodd"/>
<path d="M80.9 92.7l6.7-.4 1.1-.6 .4-.5 0-.6-1.2-1-1-.5-3-.3-2.7-.7-1.2 .1-1.5 .8-.7 1.1 0 .5 1.7 1.6ZM48.3 25.1l2.3 .5 1.1 0 4.5-1.7 1-.7 1-1.2 1.3-2.4 .5-2.9 .8-1.2 .9-.6 .6-.1 .7 .4 .4 2 1.4 0 3.1-1.8 2.6-3.3 3.3-2.9 3.3-1 3-1.4 5.5-1.5 1.4 .2 2.4 .8 9-.8 3.1 1 3 .1 2.9 1 .9 .7 .4 .5 1.3 3.2 2.2 1.8 .3 .5-.1 1.8 .8 1.1 2 1.8 4 1.3 6.5-.5 1.5 .2 3.2 1 3.4 .1 2.6-.9 3.2 .8 1.7-.6 1.3-.1 3 1.2 .4-.2 1.6-1.7 1.2-.3 1.1 .2 3.1 1.3 1.5 .1 .7-.4 .5-1.6 4 .3 1.9-.6 .2-.8-.6-1.8 0-1 .4-.4 1.5-.8 2-.2 3.4 1.2 .4-.1 1-.7 2.2 0 1.1-.9 2.9-.1-6.8-4.7-5.2-3-7.1-3.1-6.8-2.2-104.3 0-6.8 2.2-7.1 3.1-5.2 3-6.9 4.8 .6 .5 .7 .2 4.6-2.3 1-.4 .3 .1-2 3.7 .2 .7 .7 .2 7.3-2.3 5.4 .4 1 .7 .5 2.1 .9 1.9 1.5 1.4 .7 2.1 2.7 2.5Z" fill="#9c1127" fill-rule="evenodd"/>
<path d="M53.5 12.8l3.8-.4 2.6-.7 5.7-1 3.2-1.2 1-.7 1.6-2 1-1 1.2-.7 1.8-.4 1.1-.5 3.1-2.2 2.3-1.1 .5-.9-4.3 0-2 .3-.5-.1 .1-.2-6.8 0-5.9 2.3-.3-.1 .3-.3 1.1-.7 3.4-1.2-21.6 0-4 1.2-5.3 2 .4 .3 1.2-.1 9-1.4 5.9-1.5 .3 .1-2.8 1.5-.5 .5 2.6-.3-.1 .8 .4 .1 6.2-1.4 0 .6-1.2 1.6-.1 .3 .3 .5-2.7 2.5-1.1 1.5-1.2 3.3 0 .5ZM158.8 3.1l.5 0-5.1-1.9-4-1.2-13.7 0 2.8 .7 .5-.2-.3-.4 5.2 1.5 5.2 .8 1.2-.4 1.5-.1ZM118.8 2.7l.9 .3 .6-.1 0-1.3 1.6 .3 2.4-.2 3.8 .7 .5-.1 0-.5 .3-.2 4.1 .8 .4-.2 .4-.5 1.2 .1 2.5-.4-.7-.5-2.6-.9-25.5 0-.5 .4-.5 .1-.9-.5-4.5 0 .9 1.5 .7 .6 .7 0 1.6-.8 1.1-.2 2 .8 .7 0 .4-.4 .2-.6 1.9-.4 4 1.1ZM93.8 .7l.6-.1 .5-.6-2.4 0ZM89.1 .4l1.6-.4-3.1 0ZM96.9 .4l.8 .2 .8-.6-2.3 0Z" fill="#67001f" fill-rule="evenodd"/>
<use href="#coast" fill="none" stroke="#000" stroke-width="0.55" stroke-linejoin="round"/>
</g>
<use href="#bnd" fill="none" stroke="#000" stroke-width="0.6"/>
</g>
<text class="l" x="1.0" y="7.9" textLength="8.3" lengthAdjust="spacingAndGlyphs">a)</text>
<text class="t" x="102.2" y="12.5" text-anchor="middle" textLength="120.0" lengthAdjust="spacingAndGlyphs">ΔTsurf ECHAM 1.5CO2</text>
<text class="s" x="23.5" y="119.6" text-anchor="middle" textLength="27.2" lengthAdjust="spacingAndGlyphs">NH:2.1</text>
<text class="s" x="23.5" y="129.9" text-anchor="middle" textLength="26.6" lengthAdjust="spacingAndGlyphs">SH:1.5</text>
<text class="s" x="172.0" y="125.8" text-anchor="middle" textLength="38.4" lengthAdjust="spacingAndGlyphs">mean:1.8</text>
<g transform="translate(205.2,17.0)">
<g clip-path="url(#clip)">
<use href="#bnd" fill="#f9c4a9"/>
<path d="M46.2 99.5l104 0 5.8-1.9 6.1-2.5 4.7-2.4 4.2-2.6 5.4-3.8 4.9-4.1 3-3 3.6-4.2 2.2-3.1 2.1-3.7 1.5-3.7 1.4-5.5 .7-4.3 .3-5-.2-4.3-.7-4.3-1.4-5.6-1.3-3.7-3.2-5.5-3.9-4.9-4.1-4.2-5.7-4.6-6.3-4.3-5.2-3-7.1-3.1-6.8-2.2-104.3 0-5.8 1.9-6.1 2.4-3.8 2-3.4 2-4.8 3.2-4.4 3.4-5.8 5.3-3.2 3.7-2.2 3-1.8 3.1-1.5 3.1-1 3.1-1.2 4.9-.6 3.7-.3 4.3 .5 6.8 .6 3.7 1.2 4.3 1.9 4.9 1.8 3.1 2.2 3.1 5.4 6 6.9 5.8 4.6 3.3 4.2 2.6 3.7 1.9 5.1 2.3 4.7 1.7ZM168.5 46l-.3-.3-.1-1 .5-.6 .5 0 .6 .7 .1 .6-.5 .7Z" fill="#f09c7b" fill-rule="evenodd"/>
<path d="M46.2 99.5l104 0 5.8-1.9 6.1-2.5 4.7-2.4 5.2-3.3-4.3 .4 .1-.2 3.9-1.7 .6-.5 .1-.6-.2-.7-1.1-.2-3.3 1-1.1-.2-.3-.5 .6-2.2 0-.4-.3-.2-1 .6-1.9 1.7-1.9 1.1-3.7 1.3-3 1.6-1.3 .5-1.9-.2-1.3-.7-3 .6-1.6-.1-2.3-.6-2.7 .4-4.4 .3-1.6-.1-2.2 .3-4-.7-1 .2-2.8 1.4-1.6-.8-2.1 .2-2.6-.6-3.7 .2-3.1 .7-.7-.1-1.8-.9-2.6 .8-2-.4-2 0-2-.4-2.9 .8-2.4-.9-2 .3-2.9 0-1.3-.4-1.1-1-1.1-1.7-.3-1.1 .5-1.1 2.8-1.8 1-.1 1.4 .5 .9-.2 .6-.8 .6-1.8 .5-.6 1.3 0 2 1.3 2.4-1.3 2.9 .1 9.8-2.2 .7 .3 .9 1.5 1.4 .6 .9-.1 2.7-1.1 1.9 0 .8 .5 .9 1.9 .8 .4 2.4-1.5 .5 0 .7 .6 1 2.1 .8 .4 1.3 .1 1-.2 2.4-1.3 2.6-.6 2.7-2.1 .9-.3 .7 .4 .9 2 1.6 .5 1.1-.3 2.9-1.7 .8 .1 1.4 .9 2.3 0 1.9 .7 2.2-.5 3.7-1.8 .8 .3 1.1 1.7 1.1 .3 4.1-.4 2.5-1.3 1.1 .9 .5 0 3.2-1 1.1 1 2.2 .1 2.2-.8 5.7-3.8-1.6 3 3.9-4.7 .2-1.3-.4-.6-.4-.2-2.3 .4-.3-.3 .5-1.7-.2-.4-3.5 .6-1.3-.5-.9-1 0-.7 .8-1.8 .1-1.2-1.3-1.9-2.6-2.5-1.1-3.7 .1-.6 2.3-1.8 .1-1.3-.8-1.2-2-.9-1.6 0-.4 .3-.2 .6 .4 2.3 1.4 2 0 .6-.8 1.3-.6 .2-.5-.1-1.8-2.3-1.1-.1-.6 .2-1.8 1.4-2.3 1.1-2.4 1.6-2.9 1.4-1.3 .9-1.1 1.8-.3 2.5-.4 1.2-1.1 1.7-.7 .4-.5-.1-.8-2.1-.9-.5-.7 0-1 .5-3.1 3.3-1.2 .5-1-.3-2.1-1.3-1.4-.4-2.6 0-2.5-.6-2.2 .8-1.1 0-.8-1-1.1-2.3-1-.6-1.1 .2-1 .6-.9 1.2-.2 1.9-.6 .4-.6 0-.6-.4-1.6-2.5-.8-.7-1.1-.1-2.2 .8-3-.8-.4-.4 .5-2.5-.3-2.4 .4-.7 1.6-1.2 .4-.6 .2-1.2-.5-4.4 .4-1.5 1.7-2.2 3.7-6.4 1.3-3.4 2.6-2.7 .9-2 .5-.5 .5-.2 1.1 .3 4.4 2 1.1 1.2 1.5 2.7 .6 .7 .6 .2 1-.7 1.8-2.9 2.2-1.2 .9-.2 1.1 .3 1.8 1.7 2.9 1.8 2.9 1.3 .5 0 .7-.6 .1-.6-1-1.9-.1-1.2 .7-.8 4.2-1.7 1.6-1.2 .6-1.8-.5-3.1 .4-.4 1.2 .4 3.4 2.4 1.1 0 1.9-.6 1.5-.1 2.3 1.9 1.1 .1 0-.6-.4-.7-1.6-1.8 .5-3.7 .8-.4 1.2 .3 2.8 1.5 2.6 .1 .7 .2 2.3 1.4 2.7 .4 1.1 .8 1.8 2.5 1.6 .9 2.6 0-.8-2.2-3.2-5.5-3.9-4.9-4.1-4.2-5.7-4.6-6.3-4.3-5.2-3-7.1-3.1-6.8-2.2-104.3 0-5.8 1.9-6.1 2.4-4.7 2.5-5.7 3.6-5.3 3.9-4.7 4.1-3.9 4.2-2.9 3.7-2.2 3.7-1.8 3.9 1.5 .3 1.2 1.2 .9 .4 3.5-.9 1.5 .2 3.2 2.2 2.5 3.4 1 .3 2.8-.3 1.6 .2 1 .7 .9 1.4 .7-.7 .4-2.4 .6-.7 1-.1 1.6 .3 2.6 0 .9 .5 .6 .7 1 .3 2.2-.1 1.7-.4 .5 0 2.6 1.2 1 .3 2.8-1 1.6-.1 1.1 .4 3.6 2.4 1.6 .6 .5-.2 .4-1.1 .1-1.8-.4-1.2-1.2-1.3-.9-1.5-.5-.1-2.3 .8-.5-.2-.4-.6-.1-.8 .3-1.3 1.2-1.2 3-.9 2.5 .4 .6-.1 .6-.5 2.2-2.7 1.8-1.2 1.7-.6 4.1 0 1.9 1.9 1.3 .5 1.6-.3 2.8-1.6 .5 0 1.2 2 .6 .4 1.6-.6 2.3-1.9 1.6-.4 1.5 .7 1.8 3 .5 .5 .5 .1 1.2-1.2 1-.4 1.5 .4 .8 .6 .1 .7-.2 .6-.8 .9-1.2 .9-.4 1.3 .5 4.9 .6 1.2 .8 1.1 4.9 3.3 1.1 .2 4.3-.2 2.3 1.2 1 .9 2 3.4 .4 1.2 0 3.1-.6 3.7 .9 4.9 1 3.1 0 1.9-.4 1.3-1 .5-1.5-.2-1-.6-1.6-1.4-1-.3-3.6 .3-2.1 1.2-.5 0-1-.5-1.5-2.2-.7-.3-1.2 .3-.4 1.3-.4 .4-.5 .1-3.3-2-3.7-1.3-1.1-.3-2.1 .2-.8-.2-.1-.6 .8-1 .4-1.3-.1-4.5 1.1-4.3-.2-1.3-.7-.9-1.6-1-2.8-.3-1.6-.7-1.1-1.3-1-2.9-1.1-.9-2.7-.9-5.8-2.9-1.1-.2-1.1 .6-2.9 2.8-.6 3-.9 3.2 .1 1.8 1.2 2.5 2.7 3.4 1.8 1.7 .5 1-.3 8.1-.7 1.4-1.7 1.1-.5 .2-.8-.3-1.9-2.4-1.4-.9-1 0-2.4 .8-3.3-.6-2.4 .5-1.6 .1-1.1-.3-3.8-2.1-.5 .1-1.8 .8-2.4-.7-1.9 .4-2.3-.5-2.3 .8-1.6 .1-.2 .2 .1 .6 .6 1.5-.4 .4-2 0-.7 .8-.7 1.4-.4 .2-5.3-2.4-3.1-3.1-1.4-.6-.5 0-.4 .6 1.5 2.5 1.7 4.3 .5 .6 4.1 1.8 1.5 1.2 1.2 1.8 1.1 .6 1.8 .4 1.4 0 .9-.6 .5-1.2 .7 .2 2.2 1.8 1.9 .9 1 .1 1-.4 2.2 .5 1.7-.9 1.3-.1 1.4 .5 2.9 1.8 2.4 .4 .7-.3 .3-1.5 .7-.3 3.9 .3 2.2 .5 .8-.1 .2-.5-.6-2.1 .5-.8 .8-.4 .5 .2 1.8 1.6 3.5 2.4 2.4 .3 2.3 .9 1.5 .2 1.1-.4 .8-1.2 .5-.1 1.3 .9 1.7 1.7 .6 1.2 .1 1.1-.5 1.1-1.6 1.1-2.8 .1-2 .7-.4 .5-.2 .8-.5 .3-4.5-1.9-1.8-.4-1.5 .2-1.6 .8-3.2-.3-3.6-.9-1.7 .4-3.5-.3-1.2 .8-2.7-.2-2.1 .5-1.3 0-3.4-1.1-1.9 .1-3.3-.7-5.9-3.4-3-1.3-1.2-.3 7.4 5.6 6.8 4.1 8 3.5 4.5 1.6ZM35.8 34.3l-.5-1.8 .3-.7 .8 1.3-.2 1.2-.2 .4ZM8.9 32.5l-1.7-1.6-.1-.9 .4-.6 1.1-1.1 2.2-1.1 1.7-.3 3 0 3-.7 2.1 1.7 .6 .9 0 .6-.6 .6-4.5 2.3-3.2 0-2.8 .5ZM84.5 23.9l-2.6-1.3-2.6-3.6 0-.6 .9-1.2 2.3-1.7 1.2-.4 .9 .1 .8 .5 1 2.1 .4 .4 1.4-.1 .5 .3-.1 .8-1.7 2.1-1.2 2.2-.6 .4ZM175.1 87.2l3.8-2.9-2.3 1.4ZM19 82.2l.9 0 .3-.6 0-1.2-.9-.6-1.9-.2-.3 .2-.1 .5 .4 .7ZM12.7 79.7l.4 0 .2-.5-1.4-4.2-2.2-1.3-1.1-.1-.8 .3-.2 .3 1.5 2 3 3.4ZM121.4 65.3l1 .4 .5-.1 2.3-3.5 .4-2.5-.4-1.2-.7-.6-1.1 .3-1.1 1-1.5 1.7-.6 1.3-.2 1.2 .2 .6ZM159.6 51.8l.5 .2 1.1-.3 .8-.7 .3-.7-.4-1.8-.7-.9-1.1 .2-1.2 1.3-.2 1.2 .3 1ZM4.3 39.9l1.2-.5 .9-.8 .7-1.2-.4-.6-1.1 .2-1.1 1-.7 1.2 .1 .5Z" fill="#da6853" fill-rule="evenodd"/>
<path d="M82.1 93.8l1.5 0 1.6-.6 .9-1-.1-1-.5-.6-1.2-.5-2.5-.1-2.8 .2-1.2 .4-.5 .6-.1 .5 .3 .5 .7 .5ZM53.6 22.1l3.3 .2 4.6-.4 3.5-1.7 2.5-1.7 2.2-.8 .9-1 1-3.5 .6-1.1 1.2-1.3 1.1-.4 .3 .1 1.8 2 .7 .3 .8 .1 1.5-.4 3-1.7 3.4-.9 1.4-.1 2.8 .6 3-1.4 2.8 .7 2.5-.5 .8 .1 1.2 .4 .4 .4 .3 2.5 .4 .6 .8 .6 1.4 .7 .9 .1 1.6-1.7 .8-.3 .7 .6 1.5 2.3 9.3 4.3 .9-.1 1.5-1.4 .9-.2 5.5 .9 2.7-.1 3.7 .8 5-1.5 3.6 .7 5.2 0 6.3 .9 4.8 .1 1.9-.6 .9-.9 .1-.6-.9-2.3 .2-.6 .6-.6 1-.2 3.5-.1 .9 .3 2.9 1.8 .8 .2 .6-.3 .2-1.8 2.5-1.2 .7-1.1-5.3-3.6-5.2-3-7.1-3.1-6.8-2.2-104.3 0-5.8 1.9-7.1 2.9-5.4 3-5.8 3.9 .9-.1 1.8 .3 2.3-.5 .2 .2-.7 1.9 .5 1.1 .6 .3 7.2-1.3 2.3 .3 1.6 1.1 .4 .6 .6 2.1 1.8 1.4 .9 0 2.3-.6 .9 .1 2 1.3 3.8 1.1Z" fill="#c13639" fill-rule="evenodd"/>
<path d="M53.7 14.4l.8 .1 1.2-.5 2.9-2.2 4.3-1.9 2.8-1.8 2.4-1.1 1.6-1.7 1.5-.8 .8 0 1.4 .4 1.8 0 .6 .3 1.7 2.2 .6 2.1 1.2 .3 5-1.9 4.2-1.1 2.2-2 2-2.9 1.6-.8 4.1 1.4 .6-.1 1.6-.7 2 .2 .3 .3-.2 .5 .3 .7 .4 .5 1 .4 1.1-.4 .1-.5-.2-.7-.8-.6-1.6-.2 1.6-.8 2.7 .7 2.2-.1 1.1-.4 .6 0 7.1 2.5 .5-.4 .1-1.3 .2-.4 1.7-1 3.5 .3 1.4 .4 3.4 1.3 1.2 .7 .8 .9-1.3 .8-1.1 1.8-1.7 .3-.1 .6 1.1 2.6 1.1 1.1 1.4 .6 1.3 0 3.6-1 3.2 .4 1.3-.5 1.6-.1 1.3-.4 .9 .1 3 1 2 .3 1-.3 .8-1.3 1 .1 2.9 1.3 1.9-.6 1.6-.8 2.6 .4 .4-.3-1-1-.9-.6-5.3-1.8-1.3-.1-.8 .8-1.4 .1-5.5-1.6-4.1-.4-4.2-2.4-1.2-1.3 .1-.3 .9-.4 3 .4 .8-.5 1.6-.1 7 1.9 .2-.1-.1-.4-1.3-1 3.7 .1 1.5-.4 2.6 .3-5-1.6-104.3 0-5.5 1.7-.5 .5 0 .2 .7 0 5-1.1 .3 .2-.4 .6 3.6-.1 4.5-1 2.7 1.1 3.1 .1 2.8-.7 1.4 .4 .1 .8 2.2-.7-2.2 2.8-4.1 2.6-.7 0 0-.4 .7-2-.2-.2-2.3-.1-4.6 3.2-1.8 1-2.6 .6-1.3-.7-2.8 0-2.1 .6-.2 .5 .7 1.1 .6 .3 2.4 .1 .6 .7 .9 .4 4-.1ZM68.3 11.1l.9-.2 1.3-1 .4-1.1-.4-.7-.7-.2-.9 .4-1 2 .1 .6Z" fill="#9c1127" fill-rule="evenodd"/>
<use href="#coast" fill="none" stroke="#000" stroke-width="0.55" stroke-linejoin="round"/>
</g>
<use href="#bnd" fill="none" stroke="#000" stroke-width="0.6"/>
</g>
<text class="l" x="201.8" y="7.9" textLength="8.3" lengthAdjust="spacingAndGlyphs">b)</text>
<text class="t" x="303.2" y="12.5" text-anchor="middle" textLength="110.0" lengthAdjust="spacingAndGlyphs">ΔTsurf ECHAM SEED</text>
<text class="s" x="224.2" y="119.6" text-anchor="middle" textLength="27.2" lengthAdjust="spacingAndGlyphs">NH:1.5</text>
<text class="s" x="224.2" y="129.9" text-anchor="middle" textLength="26.6" lengthAdjust="spacingAndGlyphs">SH:1.0</text>
<text class="s" x="372.4" y="125.8" text-anchor="middle" textLength="38.4" lengthAdjust="spacingAndGlyphs">mean:1.3</text>
<g transform="translate(405.6,17.0)">
<g clip-path="url(#clip)">
<use href="#bnd" fill="#4c99c6"/>
<path d="M46.2 99.5l4.6 0-12.1-3.9-1.9-.2-.7 .6 5.8 2.3ZM52.5 99.5l2.8 0-.3-.3 1.8 .1 .4-.2-2.7-1.5-4.1-1.2-1.2 0-.7 .5-1.3 .1 .5 1 1 .6ZM60.1 99.5l10.5 0-.3-.5 .3-.1 2.3 .6 26.3 0 .4-.7 .1-.8-.3-.8-2-1.3-2.4 .1-1.1-1.8-1-.4-1.4 .8-1.7 .4-1 1.1-.9 .5-.8 1-1.6-1.3-1.7-.6-1 .1-1.6 1.2-.8-.2-1.3-.8-.8-.2 .5 1.8-1.5 1.6-1.8-.6-.8-.6-.4-1.1-.5-.5-1-.2-.5 .2 .3 1.5-2.2 .2-1.2-.2-3.3-1.9-1.4-.4-1 .6-1.8-.1-.1 .3 .6 .9-.3 .3-4-.9-1.1 .2 .7 1.5ZM101.8 99.5l28.8 0 1.6-.9 1.8-.6 .2 .1-.2 .3-1.9 1.1 5 0 2.7-.9 1-1 3.2-2 .2-.4-2.8 .2-1-.5-.8 0-5.6 1.5-4.4 1.8-.9 .2-.5-.7-3.5 .2-.3-1.1-1.1-.2-.1-.3 .7-1.7-.2-.4-1.2 .6-3.6 2.8-1.3 .7-.9 0-.9-.4-1.1-.1-.9-1.2-.6 0-2.7 1.2-4.3-1.6-2 1.2-2.6 2.1ZM138.6 99.5l4.2 0 6.1-1.6 1.5-.7-2.5 .3-.2-.5-.8-.3 1-1.2-.2-.1-3.3 1.5-2.7 1.7-3.3 .9ZM147 99.5l3.9-.2 9-3.2ZM100.1 89.7l1.6 .1 3-1 2.1 0 3.8-.4 2.4 .5 8.2 .3 3.7-.8 4.8 .3 2.6 .5 5.2-.3 4.2 .4 3.8-.5 2.7 1 4-1.1 4.8 .5 3.9-.8 .7 .1 .4 .7 .4 .3 4.9-.9 .7 .1 .5 .6 .5 .2 4.3-1 .8-.6 4.4-3.3 4-3.6 2.9-3 3-3.6 2.1-3.1 2-3.7 1.2-3.1 1.3-4.9 .8-4.9 .3-5-.2-4.3-.5-3.7-1.2-4.9-1.2-3.7-1.8-3.7-2.3-3.7-4-4.9-4.3-4.1-5.7-4.6-6.6-4.5 3.5 2.8 .7 .9 0 .3-.6 .1-3.2-.7-3.1-.2-1.6 1.1-1.1 .2-6.4-.9-1.8 .8-1.8 .1-.7 .8-2.4-1.1-1-.2-2.3 .3-3.1-1.2-2-.4-1.1 .1-1.9 .9-3.3-.5-5.8 .1-3.1-.4-5.3 .2-2.5-.2-2.4 .4-2.8-1-2.7 .6-1.8-.5-2-1.2-.3-.5 .7-2-.1-.6-.9-.4-2.1 .3-.8-.2-1.4-1.1 .1-.4 2.9-2 .6-.2 1.1 .5 2 1.5 .7 .1 1.9-.5 2.9 1 .5-.3 0-.6-.7-.8-1.3-.7-.4-.6 .7 0 2.4 1.1 1.1 .1 .5-.2 .5-1.2 .5-.3 .8 .1 .9 .6 .8 1.5 .6 .4 1.8 .3 1.8-.3 .3-.4-.1-.7 2.2 .5 .2-.1-.8-1.4 1.3-.4 1.4 0 .1-.3-1-.6-20.3 0-.9 .3-1.1-.3-29.4 0-1.5 .4-1.3-.4-11 0-3.5 1.9-.7 .7-.1 .4 1.3 0 4.3-1.5 1.6 0 .6 .4 2.7-1.1 .5 0 .3 .6 .6 .1 3.5-.7 3.3-.3 1.6 .5 1.6-.1 .8 .5 2.6-.4 1.8 .5 2.7-.3 4.2 1 .4 .4 0 .4-1.4 1.2-3.1 3.7-1.3 .7-4.9 1.7-1.1 .7-1.5 1.6-.9 .5-1.2-.2-1.2-1.4-.4-1.1 .2-2.1-.3-.5-.8-.5-.9 .3-1.4 2.3-1.6 1.6-.8 1.1 .4 2 .7 2.1-.3 1.1-.6 .6-2 .6-1.2 .6-1.4 1.2-3.7 2.3-3.5 .3-3.9 1.1-2.5-.1-2.8-.4-3.2 1.6-3.4-.1-.8 .6-1.1 1.4-.7 .4-1 .1-2.4-.5-.8-.5-.3-.5-.9-3.9 .1-.6 .9-1.2 .5-1.2-.3-2.7-1.5-1.3-.3-2-1.4 .1-4.1 1-.8-.1 1-2 .1-1.1 .4-.5 1.2-1.1 6.4-3.1 .9-.5 1.5-1.5 2-.9 1 0-.2 .4-2.1 1.5-.3 .5 .2 .3 1.6-.3 3.7-2.4 2.1-.9 1.7 0 3.6-.8 .2 .8-.7 1 .7 0 4.9-2.1 2.3-1.9-14.1 0-4 1.2-5.3 2 .8 .1 .2 .4-.7 .6-4.1 2.5-4.3 3.1-1.8 .6-1.1-.1 0-.5 .4-.5 1.9-1.8-3.6 2.3-5.3 3.9-4.8 4-4 4.2-3.4 4.3-2.2 3.7-1.5 3.1-1.4 4.3-1.1 4.9-.5 4.3-.1 4.4 .5 5.5 .9 4.3 1.2 4.3 1.3 3.1 2.1 3.7 2.2 3.1 3 3.6 3 3 4.1 3.5 4.6 3.4 8.3 .7 1.9-.5 2.6 .4 1.7-.6 4.6-.4 1.6-.6 5.4 .8 3.5-.3 2.8 .4 1.1-.2 2.4-.9 3.5 .9 3.7 .5 2.6-.5 2.1 .8 1.4 .2 7.1-.9 3.5 .5 4.1 .1 3 .5 2-.5 2.5 .1 2.5-.5 1.2 .3ZM120.2 26.3l-1-.8-1.1-2.3-1.1-1.2-1-.7-2.1-.7-2.4-.4-.3-.6 .3-.6 4.3-1.2 2.7 0 3.4-1.1 2.7-.1 2-.9 7 .5 7-.4 4.5 .5 2-.3 4.1 0 1.2-.5 .2-.6 .1-1.4 3.7 2.7 3.7 1.1 2.4 1.1 1 1.2 0 .6-.3 .7-.7 .4-2.2 .4-.9 1.8-4.7 1.3-6.3-.4-4.5 1.1-5.4 .4-3.6-.2-4.4 .6-2.7-.5-5-2.5-.5 0-.4 .6-.1 1.7-.4 .7-.5 .2ZM61.2 14.4l.9 .1 .7-.7 .7-1.2 0-.6-.9 .1-2 1.1 0 .6ZM145.1 3.2l1.3 .2 .5-.4-.9-1.1-1.1-.8-3-1.1-3.3 0 1.4 1.2ZM158 3l1.6 .3-5.4-2.1-4-1.2-6.8 0 5.7 1.9 5 .8 .3-.2-.6-.6 .4 0ZM134.9 2.7l.6 0 .2-.7 2.5 .3 .3-.1 .1-.3-1.3-1.4-.9-.5-4.1 0-.7 .4 .9 1.1Z" fill="#87beda" fill-rule="evenodd"/>
<path d="M98.9 85.2l1.8 .2 4-.7 3.1 .5 2.3-.3 3.5 .2 3.2-.6 6.3-.1 3.4-.5 3.3 .6 1.5-.3 2.3-1 1.6 1.3 .7 .3 2.8-.3 5.2 .3 6.1-2.2 5-1.1 1.4-.7 2.7-1.9 2.6-.2 3.4-1.5 1.1-.2 .7 .5 .5 2 .8 .7 .4 .8 .4 .5 .7 .2 2.3 .1 .3 .1 .4 1 1.2 .2 1.6-.9 1.9-1.8-.5-.4-2.4 .6-.9 0-.6-1.4 .5-.6 3-.9 1.9 0 4.5-2.6 4.4-1.9 .6 0 .3 .6-1.7 1.7-3.5 1.9-3.7 2.4 .9 .2 1.9-.5 3.4-1.6 3.8-4.7 3.2-5.6 1.2-3.1 1-3.7 1.1-6.1 .3-6.2-.9-7.4-1.7-6.8-1-2.5-1.6-3-2.1-.8-1 0-.3 .8 .3 3-.6 .1-3.4-2.5-1-.4-2.1 .1-1.1-.2-2.9-1.6-1.2-.3-.8 .5-.4 2.5-.2 .6-.7 .7-1 .1-3.2-1.5-1 .1-2.2 1.1-3.2-.2-.5 .3-1.5 1.8-1.4 .8-.5 0-.6-.4-1.6-2.2-.8-.6-3.2-1.8-2.4-.9-1.5-.1-1 .1-3.5 2.1-.5 1.2 .4 .8 2.3 .6 1.6 1.1 .8 1.2 .4 1.9-.5 0-1.8-1-2.3-.9-1.8-1.9-2.8-.5-1 0-1 .3-2.4 1.7-.5 .2-4.3-.9-1.1 .2-.5 .3-.1 .6 .3 2.5-.3 1.2-.5 .5-2.1 .8-1 1-.2 .8 .1 2.5-.8 1.8-1.1 1.1-1.1 .6-2.7 .5-1.1-.5-2.4-5.4-.4-.6-1.1-.6-1.1 .2-2.4 1-2.7 .6-3.5 3.6-.5 .2-2.7-1.3-1.1-1.5-.6-.3-1.1 .1-4.3 1.8-.9-.1-.7-.4-2.6-2.1-.9-1.2-.5-1.2-.6-3.1 .2-1.9 1.5-1.8 .7-1.9 .1-3.7-.2-.2-2.1 .2-2.9-1.4-2.7 .7-2.5-.5-2 .3-1.6 .9-2 2.4-1.1 .7-3.6-.5-3.7 .3-2.5-.5-2.7 .7-3.6-.4-2.9 1-2.5-.3-2.3 .7-2.1 .3-.6 .4-.6 .8-.3 1.2 .2 1.5 .9 1.1 .6 0 1.7-.8 .5 0 .5 .5 .4 1.4 1.1 1.9 .1 .6-.4 1.2-.7 .4-2.1-.5-2.1-1.5-2.6-.7-1.4-1.3-.9-1.3-.5-2.5-.5-.7-1-.5-2.1 0-1.8-1.4-.5 .1-.7 .6-1.7 3.2-.6 .6-.7 .2-2.6-.4-1.1 .2-1.6 1.2-1.2 2.2-.6 .4-1.5-.5-1.9-1.3-.3-.8-.2-2.5-.7-1-.9-.5-1.1 .1-.9 .8-.6 1.3 0 2.4-.8 .6-.9-.8-1.1-2.1-.1-.8 0-1.8 .7-2.5-1.7-.9-1.4-2.2-.9-.2-1.8 .5-1.6 0-2 .7-.5 0-1.4 2.7-1.2 3.1-1.9 8-.5 6.8 .2 4.3 .5 3.7 1.9 7.4 1 2.5 1.6 3.1 2 3.1 3 3.6 2.3 2.4 1.7 1.2 2.9 1.2 1.6 .2 .2-.3-.1-1.7 .4-.9 .4-.6 .8-.2 1.8 .3 3.1 1.5 3.2 .4 2.5 .7 .6-.4 .1-1.7 .5-.5 3.4 .7 .3-.5-.6-1.8-3.4-4.2-.2-.7 2-1.8 2.1-1 1.1 .2 3 1 3.3 2.1 2.7 .3 3 2.4 3.4 1 3.8 1.9 1.7 .6 2.5 .4 .8-.5 .8-2.3 .1-3.6 .4-.9 1.7-1.1 1.5-.2 .8 .3 .3 .6-.3 .6-1.5 1.3-.3 .6 .1 1.2 .5 1.2 1 1.8 1.6 1.8 1.3 1 2.2 1 .9 0 2.2-.4 2.1 .9 1 .2 .4-.3 .2-.6 .1-1.7 .4-.3 .5 .1 1.1 .5 2.7 1.9 3.4 1.1 1.4 .1 2.1-.8 1.4 .4 2.8 1.3 3.2 0ZM88.5 80.4l-.8-.6-.3-.6 .4-.6 1.6 .1 1 .5-.2 .6-.7 .7ZM121.5 80.4l-2.5-1.2-.4-.6 .4-.6 1.1-.7 1.5-.2 2.9 .9 2 1.2-.1 .6-1.3 .3-1.6 .6-1 .1ZM111.8 78.6l-.7-.6-.1-.6 .2-.6 .5-.6 2.2-.2 1.2 .8 .1 1.2-.8 .8-1 .4ZM169 73.8l-.4-4.1-.7-.9-.9-.2-1.7 .2-5.5 2.2-1-.3-.2-.6 .3-1.3 2.7-5.5 1.5-1.9 2.3-2 4.6-2.3 1.1 .3 1.3 1.6 .6 .2 .5-.2 1.3-1.3 .6 0 1.4 1.3 1.7 4.7 1.8 2.1-.2 .6-2.2 2.4-6 4.7-1.4 .7-1 0ZM28.9 72.5l-.8-.6-.3-.6-.2-1.2 .5-.3 .6 .4 1.7 1.7-.1 .6ZM110.4 69.5l-.5-.7 .1-2.4-.3-.6-.5-.1-1.1 .8-.6 0-1-.8-.6-1.8-.3-3.1 .8-1.8 .9-3.3 1.1-1.2 .5-.1 2.2 1.2 3.7 1.7 1.1-.3 1.7-1.3 .5 .1 .8 1.3 .1 1.3-.5 .8-1.5 1.6-.3 1.3-.1 2.6-1.5 3.5-.9 1-1.1 .5-1.6 .1ZM22.9 67.6l-.2-.9 .4-.4 1 1.3-.3 .6ZM131.3 65.1l-.2-.6 .5-.8 .6-.2 .5 .3-.1 .7-.4 .6-.3 .2ZM122.2 64.5l-.2-.6 0-.6 .7-1.5 .6-.8 .4 1-.1 1.9-.6 .8ZM61.6 63.9l-1.3-3.1-2.8-2.5-1.2-1.6-1.3-2.7-.6-2.4 .1-1.9 1.3-2.4 .5-1.9 2.2-2.2 1.7-.6 1.6 .2 2.1 .8 2.1 1.7 2.1 1.1 .6 .5 .3 1-.1 1.2-.3 .5-.5 .4-2.7-.7-.6 .2-.5 .8 0 4.4-1 1.8-.4 1.2 .8 4.4-.2 .6-1.1 1.1-.5 .3ZM174.1 55.3l-.7-1.3-.3-1.8 .6-.9 .6-.2 1.1 0 1.3 1.1 .6 1.2 0 .6-.6 .7-1.6 .9-.6 0ZM158.4 51.6l-.6-1.3 .2-.7 1-1.1 1.7-.6 .5 .4 .2 .8-.5 1.9-1.3 .9ZM104.9 50.3l-.4-.6-.1-.6 .2-.8 .5-.7 1.6 .9 .8 1.2-.1 .6-.6 .3-1.1 0ZM152.9 49.7l-.5-1.2 .1-.5 .5-.3 .6 .6 .3 1.4-.3 .4ZM31.9 42.3l.5-1.2 .4-.3 .5 0 .1 .9-.3 .6-.6 .4-.5-.1ZM153.3 38.6l-.7-1.2 .1-1.9 1.1-.9 1-.3 .5 .1 .5 .5-.3 1.3-1.6 2.6ZM159.8 84l1.2 .2 1.6-.8 1.4-1.2 .5-.6 .2-.6-1.1-.3-1.9 .5-1.7 1.6-.3 .6ZM44.4 83.5l1.3 .4 .4 0 .2-.5-.4-.6-1.4-1.1-1.8-.6-.2 .4 .5 .7ZM112.1 30l.5 .2 1-.2 .5-.6-.2-.6-1.4-.3-1.1 .1-.2 .2 .1 .6Z" fill="#b6d7e8" fill-rule="evenodd"/>
<path d="M105.8 82.9l1.8 .5 2.3-.4 3.2 .3 1.6-.5 .5-.6-.8-.6-4.8 .5-2.7-.3-2 .4 .5 .6ZM101.7 70.2l.5 .2 .2-.3 .3-1.3-.4-1.6-.6-.7-.5-.1-.4 .6 0 .6ZM154.4 64l.6 .1 .2-.2-.3-.6-.6 0ZM100.7 60.3l1.1 .5 .5-.3 .2-.3 .4-2 0-3.1-2.1 1.2-1.8 2.1 0 .6ZM121.4 54.1l.6-.3 .5-1 0-.6-.5-.5-.5 .2-.7 .9 .1 1ZM97.5 49.9l.5 0 .8-.8 .2-1.2-.4-.6-1.1 0-.9 .6-.2 .6 .3 .6ZM156.2 46.1l1.1-.1 .9-.6 .4-.6-.3-.5-2.2 .5-.3 .6ZM133.8 42.3l1-.3 .5-.9-.3-1.2-.4-.5-.5-.1-.5 .2-.5 1 0 1.2Z" fill="#dbeaf2" fill-rule="evenodd"/>
<use href="#coast" fill="none" stroke="#000" stroke-width="0.55" stroke-linejoin="round"/>
</g>
<use href="#bnd" fill="none" stroke="#000" stroke-width="0.6"/>
</g>
<text class="l" x="402.7" y="7.9" textLength="8.3" lengthAdjust="spacingAndGlyphs">c)</text>
<text class="t" x="503.7" y="12.5" text-anchor="middle" textLength="137.2" lengthAdjust="spacingAndGlyphs">ΔTsurf ECHAM SEED only</text>
<text class="s" x="423.3" y="119.6" text-anchor="middle" textLength="29.9" lengthAdjust="spacingAndGlyphs">NH:-0.7</text>
<text class="s" x="423.3" y="129.9" text-anchor="middle" textLength="29.3" lengthAdjust="spacingAndGlyphs">SH:-0.5</text>
<text class="s" x="571.7" y="125.8" text-anchor="middle" textLength="41.0" lengthAdjust="spacingAndGlyphs">mean:-0.6</text>
<g transform="translate(4.2,175.9)">
<g clip-path="url(#clip)">
<use href="#bnd" fill="#da6853"/>
<path d="M46.2 99.5l104 0 6.8-2.3 8-3.5 6-3.6 6.7-4.8-4.2 .1-2.2-.4-3.9 .7-3.4-.9-4.4 .9-3.7 .1-1.7-.5-3.1 0-2.2-.6-7.1 .6-3.7-1.2-4.8 1.4-.9-.1-2.6-.9-5.9 1.3-2.4-.5-3.7 .5-3.4-.6-4.1 .5-4.7-.3-2.3 .1-3.5-.8-1.3 .1-3.1 .7-5.4-.7-3 .5-3 .2-1.8-.1-2.9-.8-2.8 .9-4.3 .2-3.8-.4-4.9 .6-1.9-.2-2.7-.8-2.2 .7-3.8-.5-2.7 .6-3.6-.7-2.6 .1-2.5-.2-1.8 .4-1.4 .8-6.6-1.3-5.4 .8-5-1-2.9 .6 6.7 4.9 6 3.6 8 3.5 4.5 1.6ZM64.5 72.7l1.1 .3 .9-.4 1.6-2.2 1.4-1 .9-.9 1.6-4.4 1.9-3.3 .4-1.8-.1-1.3-1-3.7-.8-.6-3.7-.9-2.2-2.2-.6-.3-1.6-.2-2.7 1.3-1.1 0-.6-.8-.2-3-.3-.7-.5 .2-.8 1.7-2 2.5-.4 1.2-.1 1.2 .7 1.9 1.2 2.1 3.4 2.3 .9 1.1 .7 1.3 .6 1.8 .2 1.2-.5 3.1 .2 1.9 .7 1.8ZM171.4 72.6l1.2-.4 1.7-1.4 2.1-2 .8-1.2 .1-1.2-.3-1.2-.6-1.7-.9-1-1 0-2.3 .6-3.3 .3-3.1-.4-2.1 .2-2.4 .7-1.4 1.2-.5 1.3-.1 1.2 .4 1.2 .8 .2 3.4-.6 5.5 .5 1.1 .6 .2 .6-.1 1.8ZM108.5 69.1l1 0 .7-.3 2-1.6 1.2-2.1 1-3 1.3-.8 .7-1.1 .3-1.2-.3-.9-.5-.5-1.6-.4-2.5-1.9-2.3-.8-1.1 .2-1.1 .7-.6 1.1-.9 3.1 .1 1.2 .9 2.5 .1 3.7 .6 1.3ZM118.7 43.7l.7-.1 .6-.7 .1-2.7 2.2 .4 1.1-.2 1.6-.6 1.7-1.2 1-1.2 .2-.8 .1-1.7 .3-.5 1-.6 2-.4 1.6 0 2.7 .5 2.8 1.1 3.3 .4 1.5-.5 2.3-1.7 3.5-.9 4.9 .5 5.7-.4 .7-.6 .2-.6-.8-3.7 .3-.9 3.1 0 .7-1.6 1.1-.6 1.5-.1 1.9 .7 .9-.2 .6-.9-.8-2.4 .2-.3 3.1 .9 2.1 .1 .4-.2 .3-1.2 .4-.2 2.1-.4 2.1 .2 .2-.2-.1-1.7 .5-.5 1.1 .2 1.7 .8-3.2-2.9-4.3-3.5-4.6-3.2-4.2-2.6-3.7-2-4.1-1.8-4.8-1.8-4-1.2-104.3 0-4 1.2-4.8 1.8-4.1 1.8-3.7 2-5 3.1-4.6 3.3-4.2 3.5-2.9 2.7 .2 .2 .8 .2 3.2-.8 .3 .1 .2 .9 .3 .1 2.8-.4 1.8 .7 .9 .1 3.4-.7 3.2 .2 1.3-.4 2.4-1.4 1.1-.1 .4 .6 .1 1.9 1.5 1.5-.5 3.6 .1 1.2 .4 1 2.8 4.1 2.2 1.8 1.7 2.2 .4 .3 .6-.1 3.3-3.5 1.3-1 1.7-.6 3.6 0 1.2-.4 2.8-1.9 2.8-3.1 3.9-2.1 4.8-.9 3.2 .8 3.4 .2 2.4 .8 1.5 0 2.7-1.8 3-.7 3.3-3.7 .5-.1 2.3 .7 1.9-.5 .9 .5 .7 .7 .7 1.8-.5 1-1.5 .9-.5 .7-.2 1.1 1.1 2.1 .1 .9-.6 1.3-2.6 3.7-1 2.4-.2 1.9 .1 1.8 .2 1 .6 .9 1 .9 1.6 .9 3.3 .6 3.2-.3 3.8-1 1.1 0 2.2 .8 3.2-.8 2.7 .4 2.7-.2ZM105.9 30l-3.2-1.3-2.1-.7-1.5-.9-.4-.8 .1-.6 .7-1.5 .5-.5 1-.3 3.5 .3 .5 .2 1.6 1.3 1.6 .6 3.5 .5 3.8 1.8 .4 .7-.2 .6-.5 .3-2.6 .8-3.1-.4-2.1 .3ZM87.7 15.5l-3.1-.4-.8-.5-.3-.7 .1-.7 .9-1.5 .9-.4 .9 0 1.6 .8 .7 1.1 .5 1.7-.1 .6-.4 .2Z" fill="#c13639" fill-rule="evenodd"/>
<path d="M108.9 92.2l2-.4 5.3-.5 2.7-.7 4.7 .9 2.8-.1 2.1 .9 3.4-1.4 3.8 .3 5-1.2 1.8 1.1 4.1-.1 3.6-.8 1.9 .5 6.6 .2 1.6-.4 2.3-.9 .6-.6 0-.5-.8-.3-3 .4-7.7 .6-2-1-4.3-.3-1.6 .4-2.6 1-.4 0-1.1-.8-2.3-.6-6.6 .3-3.8-.7-5.1 1.1-5.4-.1-3.6-.8-5.6 .5-2.9-.4-8.9 .1-3.4-.3-5.4 .7-2.1-.2-2.1 .2-2.2-.3-3.2 .3-2.2-.1-2 .2-2.6-.2-5.1 .6-4.7-.7-3 .4-3.5-.2-2.7 .7-3.2-.8-4.3-.4-.7 .1-.6 1-.5 .3-6.9-.9-3.2 .1-1.4 .5-3.2-.4-1.6 .3-2-.3-.7 .2 2.4 1.6 1 .1 .9-.5 4.1 1.2 1.2-.6 3.5 1.1 3.5 .6 1.3-.2 .8-1.3 1.9-.4 6.2 .9 2.8-.3 2.6 .2 3.9-.6 2.3 .4 11.2 .1 3 .4 3.9 0 3.8-.6 2.5 .4 1.9-.3 2.8 .4 4-.2 7.1 .6 3.6-.6ZM164.9 91.2l1-.1 2.6-1 1-.5 .1-.6-2-.3-2 .3-.8 .6-.3 .5 0 .8ZM46.1 25.8l1.8 .3 4.8-.7 4.7-1.8 1.8-1.6 1.9-2.7 1-.3 1.7 .6 1.1-.4 4.3-5.4 5.8-3.7 1.5-.6 1.5 .3 .5-.2 3.7-3.8 1.4-1 .8-.3 1 .2 .8 .9 .7 .2 2.3-.4 1.1 .1 .7 .4 1.3 1.4 2.6 .7 1.2 .1 5.1-.7 1.1 .1 1.3 .5 2.6 1.7 2-.5 1-1.4 .8-.6 .7-.2 .5 .2 .5 .6 .2 1-1.1 1.3-.3 .9 1.1 3.3 .1 2.4 .8 .9 4.7 2.5 .9 0 1.8-.8 .9-.1 8 4.5 3-.1 1.7 .9 1.1 .2 .5-.1 1-1.3 .4-.1 1.1 0 2.4 1.3 1.1 .2 .9-.2 2.1-1 3.3 .7 1.5-1 .9-.1 4.3 .7 1-.1 1.5-.9 2.1-.8 1.5-2.1 1.4-.6 .5-.6 0-.9-1.6-2.9-.5-2.8 .2-.6 1.2 0 4.1 1.7 1.1 .3 1.1-.6 3.8-.1 .6-.2 .2-.5-.4-1.1-2-2.4-4-2.3-7.9-3.7-7.8-2.6-104.3 0-4.9 1.5-5.9 2.4-4 1.9-4.4 2.5 2.4-.5 3.7 0-.4 1-3.2 2.7-.4 1.1 .7 .5 4.7-.4 4.2-1.5 1.3 0 .1 2 1 1.7-.4 4 .3 1.1 .7 .3 1.6-.2 .3 .3 .2 1.4-.3 2.1 .2 .6ZM59.4 18.4l-.6-.3-.2-.5 .3-1.5 1-1.2 .9-.6 1.1-.3 .4 .1 0 .8-1 2.9-.8 .7Z" fill="#9c1127" fill-rule="evenodd"/>
<path d="M55.7 12.7l1.4-.1 4.4-2 5.8-1.3 1.8-1.5 1.6-2.5 .8-1 3.7-2.5 .9-.2 .5 .4 .6 .1 3.1-1.8 1.7 0 1.4-.3-12.7 0-.9 .4-2.3 1.5 0 .4 1 .3-.2 .4-1 .9-3.4 1.8-2.9 .6-2.1 1.5-3.1 3.2-.4 1.1ZM59.6 2.3l.9 .1 4.3-1.3 .7-.2 .6-.7-.1-.2-6.8 0-1.1 .6 1.7 .4 .1 .2ZM126.3 1.5l.2 0-.2-.3-.5-.3-.8 0ZM48.1 1.2l1.2-.1 4.2-1.1-6.1 0-.4 .2 .3 .3 1 .2ZM104.3 1.3l.7 .1 1.2-.8 2.3-.6-7.8 0 2.2 .6ZM141 1.3l.6 0-2.4-1.3-10.8 0 1.9 0 2.6 .7 3.5 .3 1.3-.2ZM144.6 1.1l.6 0 .4-.5 1 0 .2-.3 4.9 .8 .6-.4-2.1-.7-9.9 0ZM53.9 .7l2.1-.1 2.6-.6-2.8 0ZM117.8 .7l2.2 .1 2.4-.4-.5-.4-5.4 0ZM126.5 .6l1.7 .1-.3-.7-3 0ZM89.5 .2l2 .1 .7-.3-3.1 0ZM97.5 .3l.8 .1 1-.4-2.1 0ZM112.2 .2l2.4 0-.1-.2-2.7 0Z" fill="#67001f" fill-rule="evenodd"/>
<use href="#coast" fill="none" stroke="#000" stroke-width="0.55" stroke-linejoin="round"/>
</g>
<use href="#bnd" fill="none" stroke="#000" stroke-width="0.6"/>
</g>
<text class="l" x="1.0" y="166.8" textLength="8.3" lengthAdjust="spacingAndGlyphs">d)</text>
<text class="t" x="102.2" y="171.7" text-anchor="middle" textLength="112.0" lengthAdjust="spacingAndGlyphs">ΔTsurf CESM 1.5CO2</text>
<text class="s" x="23.5" y="278.8" text-anchor="middle" textLength="27.2" lengthAdjust="spacingAndGlyphs">NH:2.2</text>
<text class="s" x="23.5" y="288.9" text-anchor="middle" textLength="26.6" lengthAdjust="spacingAndGlyphs">SH:1.7</text>
<text class="s" x="172.0" y="284.9" text-anchor="middle" textLength="38.4" lengthAdjust="spacingAndGlyphs">mean:2.0</text>
<g transform="translate(205.2,175.9)">
<g clip-path="url(#clip)">
<use href="#bnd" fill="#4c99c6"/>
<path d="M46.2 99.5l104 0 5.8-1.9 6.1-2.5 4.7-2.4 4.2-2.6 5.4-3.8 4.9-4.1 3-3 3.6-4.2 2.2-3.1 2.1-3.7 1.5-3.7 1.4-5.5 .7-4.3 .3-5-.2-4.3-.7-4.3-1.4-5.6-1.3-3.7-3.2-5.5-3.9-4.9-4.1-4.2-5.7-4.6-6.3-4.3-5.2-3-7.1-3.1-6.8-2.2-104.3 0-5.8 1.9-6.1 2.4-3.8 2-3.4 2-4.8 3.2-4.4 3.4-5.8 5.3-3.2 3.7-2.2 3-1.8 3.1-1.5 3.1-1 3.1-1.2 4.9-.6 3.7-.3 4.3 .5 6.8 .6 3.7 1.2 4.3 1.9 4.9 1.8 3.1 2.2 3.1 5.4 6 6.9 5.8 4.6 3.3 4.2 2.6 3.7 1.9 5.1 2.3 4.7 1.7ZM118.1 96.9l-1.6-1.2-2.1-.5-.6-.6 0-.4 .4-.5 1.2-.5 2.4-.4 3.2-.8 4.1-.4 8-.2 3.5 .6 1.5 .7 .1 .5-.6 .5-1.1 .5-8.1 2.1-7 .8-2 .1Z" fill="#87beda" fill-rule="evenodd"/>
<path d="M46.2 99.5l68.9 0 .3-.4-.3-.3-2-.6-1.8-.1-.8-.3-2.1-1.8-.8-1.8 .3-.5 2-1.1 10.5-1.8 4.6-.3 9.3-.2 6.3 .6 2 .8 .6 .5 .1 .5-.6 1-1.6 .9-6.9 2.6-6.1 1.2-2.3 0-3 1-.4-.1-.2-.4-.6-.1-3.6 .7 32.2 0 5.8-1.9 6.1-2.5 4.7-2.4 4.2-2.6 5.4-3.8 4.9-4.1 3-3 3.6-4.2 2.2-3.1 2.1-3.7 1.5-3.7 1.4-5.5 .7-4.3 .3-5-.2-4.3-.7-4.3-1.4-5.6-1.3-3.7-3.2-5.5-3.9-4.9-4.1-4.2-5.7-4.6-6.3-4.3-5.2-3-7.1-3.1-6.8-2.2-104.3 0-5.8 1.9-6.1 2.4-3.8 2-3.4 2-4.8 3.2-4.4 3.4-5.8 5.3-3.2 3.7-2.2 3-1.8 3.1-1.5 3.1-1 3.1-1.2 4.9-.6 3.7-.3 4.3 .5 6.8 .6 3.7 1.2 4.3 1.9 4.9 1.8 3.1 2.2 3.1 5.4 6 6.9 5.8 4.6 3.3 4.2 2.6 3.7 1.9 5.1 2.3 4.7 1.7ZM82.2 88.5l-.2-.6 .7-.5 .7 .5 0 .6-.3 .3ZM96.8 61.4l-2.5-.6-2.7 .6-1.1-.2-1-.7-.6-.9-.1-.6 .3-1.3 .3-.6 .8-.6 1.9-.2 4.6 .8 2.4 .7 1 .6 .3 .6 .1 .6-.8 1.2-1.2 .6ZM181.3 61.4l-1.1-.5-.4-.7 .4-.6 .9-.6 1.8 0 1.8 .6 .4 .6-.3 .6-1 .5ZM39.5 59.6l-3.1-.6-.8-.6 0-.7 1.3-.6 6.4-.5 3.2 .5 1.1 .6 .4 .7-.2 .6-.9 .5-1.1 .3-3.2 .2ZM150.7 56.5l.1-.6 1-.5 .5 .1 .8 .4 .1 .6-1.6 .5Z" fill="#b6d7e8" fill-rule="evenodd"/>
<path d="M46.2 99.5l61.6 0 .3-.2 0-.5-.8-.8-1.5-.4-1.6-1.4-2-.6-.6-.4-.8-1 .4-1 2.6-1.5 2.6-.8 6.4 .1 7.2-1.1 5.1-.4 6.1 .1 3.8-.2 7 .4 3.7 1.3 3.2-.1 .6 .2 .4 .5 0 .5-.5 1-1.1 1-1.1 .4-5.3 1.9-4.8 .9-5.8 2.1 18.9 0 5.8-1.9 6.1-2.5 4.7-2.4 4.2-2.6 5.4-3.8 4.9-4.1 3-3 3.6-4.2 2.2-3.1 2.1-3.7 1.5-3.7 1.4-5.5 .7-4.3 .3-5-.2-4.3-.7-4.3-1.4-5.6-1.3-3.7-3.2-5.5-3.9-4.9-4.1-4.2-5.7-4.6-6.3-4.3-5.2-3-7.1-3.1-6.8-2.2-104.3 0-5.8 1.9-6.1 2.4-3.8 2-3.4 2-4.8 3.2-4.4 3.4-5.8 5.3-3.2 3.7-2.2 3-1.8 3.1-1.5 3.1-1 3.1-1.2 4.9-.6 3.7-.3 4.3 .5 6.8 .6 3.7 1.2 4.3 1.9 4.9 1.8 3.1 2.2 3.1 5.4 6 6.9 5.8 4.6 3.3 4.2 2.6 3.7 1.9 5.1 2.3 4.7 1.7ZM82.4 91.2l-3.4-1-.9-.6-.7-1.7 .3-1.1 1.1-.5 2.9-.9 5.3 0 1.9 .8 1 1.2 .3 1.1-.1 .5-1 .9-4.5 1.3ZM96.1 63.9l-2.3-.3-3.2 0-4.7-2.2-.8-.6-.7-1.2-.1-1.2 .5-1.3 1-1.2 1.5-1.2 1.1-.7 1.5-.4 5.4-.5 3.8 .2 1.7 .7 2.1 1.9 .6 1 0 2.1-.5 2.4-.7 .7-2.7 1.3-2.1 .5ZM180.3 62.7l-1.9-1.1-.8-1.4 .4-1.2 1.6-.9 2.3-.7 2.7 .3 2.1 .7 1.4 1.2 .2 .6-.2 .6-.6 .6-1.8 .9-2.2 .6ZM36.7 61.4l-4.5-.6-1.3-.5-1.9-1.3-.3-.6 .1-.7 1.2-1.2 3.1-1.2 2.5-.5 3.2-.4 4.4 .2 4.4 .6 4.4 1.5 .8 .4 .4 .6 .1 1-.5 .9-1 .9-1.5 .6-6.3 .9ZM151.4 59l-2.1-.4-.8-.9-.3-.6 .2-1.8 1.3-1.4 1.6-.5 2.7 .3 1.6 .7 1.3 1.5 .2 1.2-.3 .6-.8 .7-1.9 .5Z" fill="#dbeaf2" fill-rule="evenodd"/>
<path d="M46.2 99.5l60.6 0 0-.4-.2-.4-1.7-.3-1.3-1.2-1.8-.6-1.8-2-.2-.9 .5-1 2.1-1.6 4.6-1.2 5.9 .5 6.9-.9 5.1-.4 6.6 .1 4.3-.2 3.8 .4 2.9 0 3.5 1 3.4-.2 1.1 .5 .7 .7 .1 1.8-1.2 1-8.2 2.7-4.9 .9-4.9 1.7 18.1 0 5.8-1.9 6.1-2.5 4.7-2.4 4.2-2.6 5.4-3.8 4.9-4.1 3-3 3.6-4.2 2.2-3.1 2.1-3.7 1.5-3.7 1.4-5.5 .7-4.3 .3-5-.2-4.3-.7-4.3-1.4-5.6-1.3-3.7-3.2-5.5-3.9-4.9-4.1-4.2-5.7-4.6-6.3-4.3-5.2-3-7.1-3.1-6.8-2.2-104.3 0-5.8 1.9-6.1 2.4-3.8 2-3.4 2-4.8 3.2-4.4 3.4-5.8 5.3-3.2 3.7-2.2 3-1.8 3.1-1.5 3.1-1 3.1-1.2 4.9-.6 3.7-.3 4.3 .5 6.8 .6 3.7 1.2 4.3 1.9 4.9 1.8 3.1 2.2 3.1 5.4 6 6.9 5.8 4.6 3.3 4.2 2.6 3.7 1.9 5.1 2.3 4.7 1.7ZM82.9 91.7l-3.6-.8-1.4-.8-1.1-1.6 0-1.1 .4-.9 .8-.5 3.2-.9 5.7-.2 1.3 .2 1.1 .6 1.5 1.7 .3 1.6-.1 .6-.6 .6-4.9 1.4ZM95.8 64.5l-2-.3-3.2 0-5.9-2.4-.9-1-.6-1.8 0-1.3 .6-1.2 1.2-1.2 1.8-1.3 1.5-.7 1.6-.4 5.4-.6 4.4 .5 1.5 .6 2.1 1.9 .7 1.2 .2 1.2-.6 4.4-.7 .7-3.3 1.3-2.1 .5ZM179.3 62.7l-1.6-1.3-.4-.6-.2-1.2 .2-.6 .7-.6 2.3-.9 2.2-.5 3.2 .5 1.9 .9 1.4 1.2 .2 .6-.1 .6-.6 .6-2.9 1.4-1.7 .4-2.1 0-1.6-.2ZM38.1 62.1l-6-.6-2-.7-2.6-1.2-.5-.6-.2-.6 .2-.7 1.1-1.2 2.1-1 4.3-1.1 4.3-.4 4.4 .1 5.4 .7 4.5 1.3 .5 .5 .7 1.1-.1 1.3-.7 1.2-1.1 .8-1.5 .7-6.3 .8ZM149 59l-1.2-1.3-.1-1.8 1-1.9 1.6-.8 2.1-.2 3.3 .9 1.5 1.4 .7 1.2 0 .6-.4 .8-.6 .6-1.2 .5-1.6 .4-2.2 0-1.6 0ZM61.3 46.6l.3-.4 .6-.2 .5 .2 .2 .4-.8 .3Z" fill="#f7f6f6" fill-rule="evenodd"/>
<path d="M46.2 99.5l55.8 0-2.9-3.6-.7-.5-1.8-.1-1.7-1.1-.2-.5 .5-1 .9-.7 1.9 .2 .8-.5 1-1.1 1.1-2.1 1.9-1.9 .4 0 1.7 .8 2.5 .2 2 .5 2.6-.2 1.1 .6 .8 .2 1.2-.2 2.1-1.1 1.2 .4 2.1-.1 2 .3 2.5-.7 2.4 .3 2.9-.6 1.2 .1 1.4 .5 .8 0 2.3-.2 3.4-1.2 .4 .1 .9 1.1 2.7 .4 2.9 .9 1.8-.5 2.5-1.9 .8-.4 .4 0 .2 .4-.3 1.6 1 .7 1.2-.1 2.9-1.4 .5 .3 .1 1.1-.4 1.1-3.1 4.1-1.4 .9-3.5 1.4-4.1 .9-6.5 1.7-2.5 .9 14.3 0 5.8-1.9 6.1-2.5 4.7-2.4 4.2-2.6 5.4-3.8 4.9-4.1 3-3 3.6-4.2 2.2-3.1 2.1-3.7 1.5-3.7 1.4-5.5 .7-4.3 .3-5-.2-4.3-.7-4.3-1.4-5.6-1.3-3.7-3.2-5.5-3.9-4.9-4.1-4.2-5.7-4.6-6.3-4.3-5.2-3-7.1-3.1-6.8-2.2-104.3 0-5.8 1.9-6.1 2.4-3.8 2-3.4 2-4.8 3.2-4.4 3.4-5.8 5.3-3.2 3.7-2.2 3-1.8 3.1-1.5 3.1-1 3.1-1.2 4.9-.6 3.7-.3 4.3 .5 6.8 .6 3.7 1.2 4.3 1.9 4.9 1.8 3.1 2.2 3.1 5.4 6 6.9 5.8 4.6 3.3 4.2 2.6 3.7 1.9 5.1 2.3 4.7 1.7ZM159.1 92.7l3.7-3.7 3-1.6 1-.1 .4 1.2-.2 .5-1.2 1.1-6.9 2.8ZM81.3 92.2l-3.3-.8-1.4-.8-1-1-.2-1.1 0-1.1 .5-1.1 .6-.7 1.1-.5 3.4-.8 3.9-.5 3.2 .1 1.4 .5 1.7 1.3 2.7 3.6 2.1-.4 .6 .7-.1 .5-.5 .4-1.6-.4-.8 .1-1.7 2-.4 .2-7.2 .3ZM94.9 65.8l-4.3-.5-3.2-1.2-3.2-.6-1.1-.5-1.5-1.6-.8-1.8-.2-1.9 .7-1.8 1-.9 2.7-1.8 4.3-1.7 6-.9 4.9 1 1.7 .7 2.1 2.2 1 2-.2 6.2-.4 1-1 .8-4.8 1.4-1.6 .2ZM180.4 63.9l-2.3-1.2-.8-.8-.8-1.1-.1-1.8 .2-.6 .9-.8 4-1.3 1.6-.1 3.2 .6 1.5 .6 2.1 1 1 1.2 0 1.2-.3 .6-.6 .7-1.2 .6-5.1 1.3-2.1 .1ZM39.9 63.3l-4.9-.5-2.6 .1-5.1-1.3-1.7-.7-.9-.7-.5-.6 0-1.2 .5-1.3 1-1.2 2.8-1.5 5.9-1.1 3.8-.3 9.8 .4 3.9 .6 1.1 .4 1.1 .8 1.2 1.9 .5 1.9-.2 1.2-1.5 1.5-3 1.7-1 .2-2.1-.1-3.2 .1ZM148.7 60.2l-.6-.2-1.1-1-.7-1.3-.1-1.2 .3-1.2 .8-1.3 1.3-1.2 1.1-.5 1.7-.2 4.8 .9 1.1 .9 2.1 2.6 0 1.2-.4 .7-1.1 1-1.2 .6-2.8 .4ZM60.4 47.3l-.4-.7 .2-.6 .9-.5 1.6-.2 1.5 .7 .1 .6-1.1 .9-1.6 .2Z" fill="#fbe3d4" fill-rule="evenodd"/>
<path d="M46.2 99.5l55.1 0-1.1-.5-.6-1.4-.6-.6-.6-.1-1.3 .3-1.8-1-1.7-.3-3-2.2-.7 0-1.7 .5-2.5-.8-7-1.1-2.3-1.1-1.7-1.6-.3-1.1 .4-1.7 .6-1.1 .9-.7 1.6-.6 6.9-1.4 4.2 .4 4.7 3.2 2.6-.4 2.2 .8 .8-.1 .9-.4 1.4-1.9 .5-.5 .9-.3 1.8 .6 2.8 1.7 1.7 .4 3.8-1.1 2.1 .3 3.2-.5 2.4 .6 4.3-.8 6.1 .2 1.9-.1 1.8 .6 1.3 .1 4.2-1.1 2.3 .4 1.8 1.3 2.4 .8 1-.4 3.2-2 2.2-.6 .8 .2 .9 1 4.7-.8 .4 .5-.1 1.8 .6 .6 7.5-2.8 1-.1 .6 .3 .4 1.2 2.1-.3 .6 .5 .4 .1 4.1-1.6 1.2-.2 5.8-5.4 5-6 3.2-5.6 1-2.5 1-3.7 .9-3.7 .5-3.7 .2-4.3-.1-3.1-1-6.7-1.3-5-1.2-3.1-3.2-5.5-3.9-4.9-4.1-4.2-5.7-4.6-6.3-4.3-5.2-3-7.1-3.1-6.8-2.2-104.3 0-5.8 1.9-6.1 2.4-3.8 2-3.4 2-4.8 3.2-4.4 3.4-5.8 5.3-3.2 3.7-2.2 3-1.8 3.1-1.5 3.1-1 3.1-1.2 4.9-.6 3.7-.3 4.3 .5 6.8 .6 3.7 1.2 4.3 1.9 4.9 1.8 3.1 2.2 3.1 5.4 6 6.9 5.8 4.6 3.3 4.2 2.6 3.7 1.9 5.1 2.3 4.7 1.7ZM38.1 69.5l-.7-.7-.2-.6 .4-1 .9-.4 .6 .2 .6 .6 .5 1.2-.1 .7-.6 .3ZM152.3 67.6l-.7-.2-.4-.5-.1-1.1 .1-.7 1.2-1.3 .5-.3 1.1 .1 1 .9 .3 1.3-1.1 1.2-1 .5ZM95.7 67l-1.9-.7-3.7-.5-3.2-1.2-3.7-.5-3.6-2-.8-1.3-.1-1.2 2-4.9 .5-.5 4.3-2.3 3.8-1.5 2.8 0 3.2-.8 5.5 1.3 1.1 .6 2.1 2.3 1.4 2.7-.2 6.2-.2 1.3-1.1 1.3-3.2 1.3-3.2 .9ZM50.7 65.8l-2.6-1.3-8-.2-4.9-.8-3.2 .3-5.6-1.3-2.6-1.1-1.5-.8-.9-1-.2-1.2 .3-.7 1.8-1.1 2-1.9 3.1-1.6 2.8 .1 3.7-.8 7.1-.1 3.3 .3 3.2-.8 2.2 .1 .5-.3-.7-1.9 .1-1.2 1.2-1.2 1.6-.5 .7 .5-.1 1.2-1.5 3.1-.1 .6 .3 .6 2.5 3.1 1 2.5 .4 1.8-.7 1.2-3 2.5-1.4 1.9ZM180.6 64.5l-2.5-1.5-1.8-1.7-.4-1.1 0-1.2 .5-1.2 .6-.5 2.3-.6 2.3-1 1.1-.2 3.7 .8 3.6 1.3 1 .5 .8 .9 .3 1.2-.3 1.2-.7 1-1.3 .8-1.8 .6-4.5 .8-1.6 .2ZM147.2 60.8l-2-2.4-.3-.7 0-1.2 .4-1.2 .9-1.3 1.9-1.6 1.1-.7 1.7-.2 3.2 .8 2.2 0 1 .8 3.2 3.4 .1 1.2-.3 .7-2 1.8-1.8 .9-2.2 .3-3.2-.2-2.7 .1ZM25.3 51.6l-1.3-.9-2.5-2.8 .7-.6 2.4-.4 2.7 .5 .9 .5 .4 1.2-.8 1.9-1.1 .7ZM15.4 51l-.8-1.3-.2-1.2 .4-1.1 .6-.5 1.1-.3 1 .2 2.1 .5 1 .6-2 2.4-1.1 1-1.1 .2ZM60.7 47.9l-.9-.6-.3-.7 .2-.6 .9-.7 1.1-.3 1 0 1.4 .4 .7 .6 0 .6-1 1.1-1.7 .4ZM168.6 45.4l-1.7-3.1-.2-1.2 .9-.6 3.3 .2 2.4-1.7 1.1 0 2.3 1.2 1.7 .4 3.1-.6 1.7 0 2.3 .9 .8 .8 0 .6-1 1.1-1 .4-1.6 .2-4.4 0-3.9-1.3-2.2 0-1 .6-1.4 2.2-.5 .3ZM71.2 38.6l-.8-.6-.2-.6 .6-.9 .6-.2 1 0 .9 .5 .5 .6 .1 .6-.7 .6-.9 .2ZM136.9 99.5l13.3 0 4.9-1.5 5.9-2.4 4-1.9 4.4-2.6-1.4 .2-5.6 2.4-2.5 .3-5.6 2.1-1 .1-.9-.5-.7 0-4.7 1.3-3.1 .6-3.2 1.1ZM157.2 91.9l.8-.2 .5-.7-.8 .2Z" fill="#f9c4a9" fill-rule="evenodd"/>
<path d="M46.2 99.5l37.8-.1-.1-.6 .2-1.2-1.5-1.6-1.4-.9-3.6-1.4-1.3-.4-1 .2-.6-.3-3.3-4.2-3.1-2.7-.3-.6 .6-1.7-.8-3 0-1.9 .8-4.1 .8-2.9 1.8-1.4 .9-1 1.3-4.6 .8-.5 1.5-.7 .6-.6 .5-1.2 .3-3.7 1.5-3.7-.2-1.3-1-1.1-1.1-.6-2.6-.7-1.3-.7-1-.8-1.6-2.2-.6-.4-1.1-.3-1.1 .3-2.7 1.9-2.7 1.3-1.1 .2-.6-.2-1.6-1.7-1-1.1 0-.6-.5 1.2-.1 1.2 .7 1.9-.1 .6-1.1 1.2-.1 .6 1.4 4.1 2.2 3.3 .5 1.3 .2 6.4-.7 3.3-.8 .8-2.6 0-4.8 .7-2.9 1.7-.9 .1-2.2-.3-.9 .2-.5 .6-.4 1.5-2.1 .7-.2 .5 .1 1.5-.6 .6-1.2-.3-2.5-1.7-1.4-.5-1 1.3-1.2 .4-1.3 1.3-2.1-.2-1.1 .9-1.3 .2-1.6-.2-2.4-1.2-.6-.6-.6-1.2 .2-.6 1.3-.3 4.7 1.8 .2-.3-.5-2.1-.1-1.5-1-1.2-2.6-1.9-3.9-1.4-4.1-.9-4.4-1.7-2.1 .1-3.2 .7-2 1.1 2.6 4 3.8 4.5 .7-.8 1 0 2.9 1.1 .5 .6 .6 2.1 .3 2.6 5.3 4 5.6 3.7 4.6 2.4 7.1 3ZM89.4 99.5l2.8 0-2.5-1-.5 .2ZM146.2 99.5l1.2 0 1.8-.7ZM70.8 82.2l1 .3 1.3-.3 .3-.6-.1-.6-.8-.7-1-.2-.9 .2-.4 .2-.2 .5 .2 .6ZM134.9 79.3l4.1-1.8 3.6-.4 1 0 1.6 .7 1.1-.3 2.3-1.9 .5-1.2-.1-1.2-.6-.6-1.8-.5-1.3-.9-.9-.3-2.6 0-6.4-1.1-3.7 .1-1.1 .3-1.8 1.2-.5 .1-2.5-.5-2.1 .5-1.9 1.7-1 1.8-.1 .6 .5 .6 2.4 .7 4.6-.7 1.9 .2 3.1 1.6 .9 .9ZM179.3 78.4l.3 .1 1.3-.3 3.2-2.1 2.2-.9 .9-.8 .3-.8-.3-.3-.7 .2-2.1 1.5-3.7 1.6-1 .8ZM169.7 76.8l1.7-.6 3.8-3 3.4-5 .5-1.8-.5-1.3-2.6-2.1-1.7-2.1-2.1-.7-.4-.3-1-2.2-.8-.4-1.1 .3-2.3 1.2-2.6 2-2.8 1.1-1.2 1-.8 1.1-.4 3-1.4 3.7 .2 .6 .4 .3 1.6-.1 1.8-.6 3.3-1.8 1.1-.3 1 .1 .8 .7 .6 2.1 .2 2.6 1 2.4ZM153.1 75.8l.9 .1 .7-.3 .3-.6-.2-.6-.4-.2-.7 .2-.6 .6-.2 .6ZM80.6 75.1l1 0 2.4-.5 2.6 .3 .9-.1 1-1 1.5-2.5 .4-1.2-.3-1.3-2-1.7-2.2-.6-4.7 .4-2.6-.1-1 .5-1 1-1 1.8-.1 1.2 .2 .6 .6 .6 2.4 1.3ZM108.3 71.5l1.5 0 3.8-1.8 1.5-1.5 1.6-3.7 .6-1.9 .6-.8 1.8-1.6 .6-1.2 .1-1.3-.5-3.7 .5-1.6 1.6-2 2.2-1.6 .7-.9 1-3.1-.1-2.5 .3-1.1 2.6-2.1 2.4-2.5 1.1-.3 1.1 .2 2.8 1.5 .9 1.2 1.4 3.1 .8 1 .6 .3 .5 0 .6-.4 1-3.3 .7-1.1 1.1-.8 2-.4 1.7 .5 4.1 3.3 2.2 .3 1.7 .8 .6-.1 .5-.5 .4-2.7 .6-.6 3.6-1.8 5-1.6 2.5-2.1 2.8-1.4 1.6 0 3.6 2.9 1.2 .5 4.7 0 2.5-.6 2.8 .5 1-.4 1.2-1.2 2.6-1.3-.4-.9-2.9-4.9-3.9-4.9-4.1-4.2-5.7-4.6-6.3-4.3-5.2-3-7.1-3.1-6.8-2.2-104.3 0-6.8 2.2-7.1 3.1-6.1 3.5-6.2 4.4-5.5 4.6-4.5 4.8-3.3 4.3-2.9 5.2 1 .3 1 1.3 4 2.5 2.8-.3 2.5 .5 2.8-.3 2.6 .3 3-1.7 1.7-.5 1.4 .8 1.7 2.1 1.5 .7 2.6 .2 6.6-.6 .9 .5 1.2 1.3 1.7 1.1 1.6 .5 2.2-.1 1 .3 4.7 2.7 .5-.1 .6-.4 .5-2.1-.2-1.5-1-1.6 0-1.2 .3-.5 2 .9 1.1 0 .6-.2 .3-.8-.1-1.3 .4-1.2 .9-1.2 .8-.6 1 .1 1.5 .8 1 .2 4.8-.4 2.7-.6 2.6 .4 2.6-.1 5.1 .8 2.7 1.6 2.6 .9 .9 1.2 .5 1.2 .6 3.1 2.1 1.8 2.1 2.5 1.5 1.2 1.8 .5 3.8-.6 1.1 .1 2.7 1.7 1.1 2.7 2.3 3.7 1.3 2.4 .2 1.3-1 7.4 .1 1.2 .6 3.1 .3 .6ZM122.5 64.1l.6-.2 .4-.6 1-1.9 .4-1.8-.4-.9-.5-.2-.6 .2-1.2 1.5-.3 1.2 0 1.9 .1 .5ZM177.8 55.3l.6-.1 .5-.5 .1-.7-.6-1.2-1.4-1.2-1.1-.5-2.2-.2-1.1 .1-.8 .6 2.3 3.1 1 .4ZM187.8 53.1l.5 .2 1.1 0 2.3-1.2 2.7-.5 1.4-.6 .3-.2-.1-2.7-2-.2-2.3 .8-1.1 .2-4.3-.2-1.7-.4-1 .2-.3 .6 .3 .9 .5 .5 1.6 .7ZM159 51.6l.6 .2 1-.1 1.5-1.4 .3-1.8-.3-1.2-.4-.5-.6-.1-1 .5-1.7 1.9-.3 1.2 .2 .7ZM153.6 50.4l.2-.7-.1-.6-.7-1.1-.5 .5 0 .6 .6 1ZM56.7 46.1l.6 .5 .8-1.2 3-1.8-.3-.7-1.7-.2-1.1 .4-1.2 1.1-.2 .6ZM77.9 46.3l1.7 .3 1.6-.1 3.3-1.2 1.6-1.7 .5-1.3 0-1.2-1-.4-4.8-.7-1.6 .2-1.1 .5-1.4 1-.8 1.2 0 .7 .5 1.2 .5 .7Z" fill="#f09c7b" fill-rule="evenodd"/>
<path d="M46.2 99.5l8.3 0 .3-.6 1.6 .1 .3-.4 .5 0 2.1 .2 2 .7 1.3 0-1-.7 .3-1.2 .7-1.6 2.1-.2 .2-.7-1.4-2.4-2.2-2.1-1.6-2.1-.9-.6-3.3-.9-2.8-.3-7.5-1.7-4.2 .3-2.7-.1-3.1 .9-3.3-.3-2.7 .4-.9 .3-2.9 2.1-1.9 .4 5.8 3.7 4.7 2.4 7 2.9ZM63.8 77.1l.4-.2 .2-1.3-.5-1.1-.6-.4-.4 .2-.2 1 .3 1.1ZM69.5 65.8l.5-.3 .4-1 1.1-4.3 1-1.8-.2-1.3-.8-.8-.8 .2-1.3 1.4-1.6 .5-1 .7-.9 1.1-.5 1.2 .1 1.9 .7 1.1 1.1 .7ZM113.8 55.9l.5 .1 .6-.4 .3-.3 .2-1.3 1.7-1 4.3-5.7 .7-1.3-.1-.6-2.3-2.7-1.7-1.5-1.1-.5-1 .2-2.7 1.4-2.7 .4-1.3 2.7-1.6 1.9-.5 1.2 .1 1.2 1.7 2.9 2.7 1.6ZM93.2 37.5l3.2-.5 1.1-.5 1.6-1.2 1.1-.3 2.6 .4 2.7-.2 3.7 .9 5.4 .5 .9-.4 .5-2.2 .5-.5 1.2 .2 2.7 1.9 4.4 1.6 1.4-.4 .4-.6-.3-.7-1.2-1.2-.1-.9 .5-.3 1.6 .5 2.6-.4 2.1 .1 2.2 .7 3.4 1.4 2.2 .6 1.1-.1 2-.8 4.1-.9 1.1 .1 2.7 .7 2.7 .2 5.7-1 1-.3 .9-.7 .6-1.3 0-1.3-.5-1.8 0-1.3 .4-.1 1.8 .6 1 0 .3-.5-.1-1.2 .2-.6 1.3-.5 .7 .5 .6 1.8 .6 .5 .6 .2 .9-.3 .5-1-1-4.2-1.3-2.5-1.4-1.8-2.5-2.3-.2-.7 .7-.2 1.4 .3 4.6 2.7 2.2 .8 .8-.1 .3-.2 0-2.3 .5-.4 1.7-.1 3.5 1.1 .9 0 .3-.3-1.8-1.8-4.4-3.4-8.2-5.2-7.9-3.7-7.8-2.6-104.3 0-6.8 2.2-8 3.6-6 3.6-6.8 4.9 2.8-1.2 1.9-.4 .8 .1 .2 .4-2.1 2.3 .8 .5 .8 .9 .7 .2 1.5-.1 3.9-1.2 1.7 .1 2.6-.3 2.7 .5 .1 .6-.8 2.3 .3 2-.2 1-1.7 3.7 .3 1.8 .9 1.7 2.3 2.3 2.9 1.1 2.2 1.7 1 .3 1.2-.5 2.5-2.1 1.2-.5 2.7-.3 2.5 .4 1.1-.2 6.9-5.7 3.3-1.8 3.3-1.3 .5-.1 .4 .3 .6 1.7 .4 .6 .8 .5 3 .5 3.8 1.1 2.1-.2 5.3-1.7 3-.4 .6-.4 .3-.6-.3-1.3-1.2-1.6-1.8-1-1.4-.3-5.3 .3-2.2-.6-2.4-.1-.3-.5 0-1 .7-2.3 1.1-1.2 3.2-.3 3.6-1.8 2 .3 1.8 0 2.8 1 1.4 0 .9-.6 1.9-2 .8-.1 3.6 1.8 .4 .6-.2 .6-.9-1-.8-.4-.9 .5-2.9 3.8 .1 1.1 1.6 1.8 .2 1.2-.2 .6-1.2 1.2-.7 1.3-.1 1.2 1 3-.7 2.5-1.3 2.5-.6 1.8 .5 1.7 .6 .5ZM106.7 30.6l-2.1-2.5-.3-1.2 .3-.4 2.6 .2 2.1 .6 1.8 .2 2.6 1.3 .1 .6-.7 .3-3.1 .3-2 1.1-.5 0ZM23 30.6l1.6 0 5.1-1.1 1.3-.7 .8-1.3-.1-.2-.5-.1-2.1 .1-1.7-1.7-.8-.3-4.9-.2-2.5 .1-1.3 .4-1.1 .7-.9 1.2 0 .6 .3 .7 .8 .6Z" fill="#da6853" fill-rule="evenodd"/>
<path d="M42.8 95.6l1.5-.2 1.2-.6 1.8-.3 1.9-.6 .5-.5 .1-.7-.9-1-2-.9-5.6-.4-5.5 .7-1.5 .8-.5 .5 .1 .8 .4 .5 2 .9 3.3 .8ZM136.1 19.7l4.5 .3 2.8-1 4.7-.9 2.3 0 .5-.3-.1-.6-.8-1-2.7-1.9 1.8-1.5 1.8-.8 .3-1-.4-1.1-1.1-1.1-2.1-1-1.1-.1-1.1 .4-1.3-.3-3.4-2-.5-.5 .1-.2 1.9-.5 2.9-.2 5.8 .5 3.3-.8 6.1 .6 2.1-.2-6.4-2.6-5.8-1.9-104.3 0-5.8 1.9-6.5 2.6 5.5-.2 1.8 .2 2.8-.4 1.4 .4 2.5-.2 2.5 .2 2 .6 2.8-.4 .4 .2 .3 1.2 1.8 .1 3.2-1.5 1.9-.1 .6 .2 .4 .9 1.8 1 4.6-1.5 1.8-.4 4.8 .3 2.9 .8 5.6-1 1.9 .9 1.1 .2 1.5-.4 2.2-1.3 1.1-.3 3.1 .4 3.9-.3 5.1 .7 3.5-.3 2-.4 2.2 .1 2-.2 2 .4 2.4 1 3.6-1.1 5.9 .6 .8 .4 1 2 2.3 1.5 .3 .6-.4 1 0 .6 .8 1.6-.1 .4-1.4 .6-3.4 .2-1.2 .3-1.5 1.4-.5 1.2 .2 .5 1.7 1.2 1.7 .6 3.5 .5ZM63.4 16.2l.3 .3 .6-.2 .3-.6-.5-.2Z" fill="#c13639" fill-rule="evenodd"/>
<path d="M72.8 2.2l3.9-.5 4 .1 3.6-.6 4.1 .1 1.7 .4 3-.6 1.8 .2 4.4-.2 4.1 .3 2.1-.3 2.6 .2 10.6-.3 11.6 .5 6.8-.6 4.9 .4 11.7-.3-3.5-1-104.3 0-3.6 1.1 5.2 .2 7.2-.2 8.6 .2 3.2-.2 2.8 .2 .9 .7 1.9-.3Z" fill="#9c1127" fill-rule="evenodd"/>
<path d="M82 92.8l9.5-.2 1.9-.7 1.1-.9 2-.1 1.5-.4 1.3 0-.3 1.2 1.4 .2 .4 0 1.3-1.4 .4-.1 1.2 .1 1.1 .9 .3 0 .9-.5 8 0 1.4-.5 2.4 0 1.4-.6 4.5 0 1.5-.5 1.2 .1 .2 .4 .4 0 4.4 0 1.6-.5 2.9 0 .8 .1 .1 .4 .3 0 18 0 .3 .1-.1 .4 .4 .1 .9-.3 1.6-.8 .3 .1 1.1 1.3 1-.1 .2 .2-.5 .6 1.1 .1 4.5-1.4 2.7-2.2 .1-.4-1.1-.1-.3-.5-1.3 .1-.5-.7-.6-.3-4.3 .3-.7-.5-.1-1.3-.3-.2-2 .3-2.5-.2-2.6 .4-.7-.2-.6-1-.4-.1-6.2 1.1-1.8-.6-2.9-.5-2.5 .4-2.2 0-2.1-.4-2.1 .7-2.1-.4-2 .5-3-.5-2.8 .4-5.4-.2-1 .3-1 .9-2.6-.3-1.9 .2-1.7-.1-1 .3-1.4 1.3-4.3-1.7-1.8 .4-1.7-.5-3.1 .3-1.9-1-1.8 .1-2.4-1.4-1-.3-1.7 .7-2.8-.2-1.8 .2-1.9-.4-1.6 .8-1.9-.3-1.2 .5-2.8 2-1.7 .1-.2 .9 .3 1.7 1.1 1.4 1.4 .3 5.9 2.4 2.2-.3ZM82.4 91.2l-1.5-.4-.6-.4-1.2-.1-1.2-1-.5-.8 0-1.1 .3-.8 .8-.1 .3-.5 1.3-.1 .3-.4 .4-.1 6.7 0 1.4 .6 1.2 1.4 .2 1.1-.8 1.3-.8 .1-.3 .4-1.6 .1-.3 .4-1.6 .2-.3 .4-1.5 0ZM177.6 83.4l2.1-.6 2.3-1.3 5.7-6.1 .5-2.9 1.1-2.7 .3-1.6 0-1.2-.6-1.9 0-.6 2.1-2.1 1.5-2.8 .3-1.2-.2-.9-.5-.5-2.7 0-.7-.5-.6-1.6-.5-.6-2.2 .5-2.6-1.3-2.3 .7-2.1-.1-2.3 1.1-1.6-.2-1.9-2.2-.1-1.4-1-.1-2.2-1.1-1.6-.2-5.5 .9-2.2 1-.5 0-1.1-.7-1.1-.3-1.1 .2-1.1 .7-1.6 .3-1.1-.1-2.2-1-3.3 .4-4.4 1.6-2.8 2.1-2.1 .3-1.2 .5-.6 1.8-.6 .8-.5 1.1-.1 1.8 .2 1.1 1.5 .9 1.3 2.2 3.1 .7 1.8 1.5 2.8-.8 1.4 .7 6.2 .3 1.4-1 1.8-2.5 1.5-.7 .3-.5-.1-2.5 .4-1.2 .7-.6 1.7-.5 2.3-1.4 1.6-.2 2.7 .5 2.2-.3 1.1 .1 1.8 2.4 .5 .1 1.1-.1 1.2-.9 1.5 2.1 .1 .7 2.1 2.7 2 .5 .6 .4-.3 3.7-.5 .7-3.8 2.2-1.3 .6-1.1 .2-1 .7-1.8 3-.3 1.2 .2 .9 .7 .9 .3 1.5 .2 .2 1.9 0 .2 1.2 .7 .3 1.3 0 .3 .2ZM180 62.7l-1.6-1-1-1.5 .1-.6 1.6-1.5 1.1-.1 .6-.5 .6-.1 3.2 .1 .5 .5 1.5 .1 .9 1.1 .7 .4-.3 1.2-1.6 1.5-1.1 .1-.7 .5-.5 .1-3.2 0-.6-.1ZM151.2 59l-.3-.3-1.6-.1-1.1-1.5 .1-1.8 1.4-1.5 1.1-.1 .5-.5 .6-.1 .5 .1 .6 .5 1.6 .1 1.3 .9 1.4 1.8-.1 .6-1.4 1.5-2.7 .1-.6 .5-.6 .1ZM115.9 75.8l1 .1 3.1-.8 1.8-.7 .5-.6-1.6-2.5-2.3-1.2-1-1.9-1-.7-1.6 .2-2.2 2-1.1 .7-1.6 .1-.5 .4-1-.6-1.2-1.5-.4-1.2-.1-1.2-.9-1.9-.1-1.2-.4-.6-.1-1.3-.4-.6 .1-2.4 .4-.7 0-.6-.2-1.9-1.1-1.6-3.8-2.5-2.2-.1-1-.5-1.7-.2-1.6 .2-1.1 .6-3.3 .1-.5 .4-2.7 .7-2.2 1.2-1.1 .7-1.8 2.3-.5 1.2 0 1.3 .5 1.8 2.7 3 1.6 .1 .5 .3 .5 .3 .7 1.3 .8 .6 .8 .3 2.6 0 1.1 1.7 .5 0 1-1 2.7 .6 2.1 2.1 1 .2 1.6-.4 1 .4 1.5 1.9 1 .7 2 .3 3.8 1.7 2.6-.4 1 .1ZM96.2 63.9l-.8-.3-5.3-.1-1.7-1.1-1-.1-2.4-1.5-.6-1.2-.1-1.9 2.4-2.7 2.1-1.2 2.7-.1 .6-.5 .5-.1 5.4 0 1.1 .1 .6 .5 1.1 .1 2.9 3.3-.1 2.5-.4 .6-.1 1.2-.8 .9-1 .6-1.1 .2-.6 .4-1.6 .2-.5 .4-.5 .1ZM3.9 67l.2-.9-.2-1-.4-.6-.7-.5-.4 .4 .5 1.4 .5 1.2ZM44.5 65.3l2.7 .3 .7-1.1 .7-.5 1-.1 1.7 .4 .5-.2 1.9-1.6 2.1-.7 .6-1-.1-1.8-.4-1.9-1.1-1.8-3-1.6-2.7-.1-1.1-.7-1.1-.2-3.2 .2-2.8-.4-8.1 .2-3.3-.8-2.7 .4-2.2 .7-2.1 .1-1.1 .2-3.7 1.4-.9 1.2-.1 .6 .2 .8 1.7 .5 2.6 2.4 .9 1.2 .8 .7 2 .8 2.9 .8 2-.3 6.1 1.2 2.6-.3 2.3 .6 1.5-.4ZM36.7 61.4l-.9-.3-3.2 0-.6-.5-1.1-.2-2.2-2-.1-.7 .7-.8 2-1.2 1.7-.2 .5-.5 2.7-.1 .5-.5 .5 0 5.4 0 1.1 0 .6 .5 3.3 .1 .5 .5 1.1 .2 .6 .4 2.8 .8 .8 .8 0 .7-.6 1.4-2 1.3-2.6 .1-.5 .5-.5 .1-9.7 0ZM119.6 39.3l-.1-1.3-.6-.2 0 .8Z" fill="#808080" fill-rule="evenodd"/>
<use href="#coast" fill="none" stroke="#000" stroke-width="0.55" stroke-linejoin="round"/>
</g>
<use href="#bnd" fill="none" stroke="#000" stroke-width="0.6"/>
</g>
<text class="l" x="201.8" y="166.8" textLength="8.3" lengthAdjust="spacingAndGlyphs">e)</text>
<text class="t" x="303.2" y="171.7" text-anchor="middle" textLength="101.0" lengthAdjust="spacingAndGlyphs">ΔTsurf CESM SEED</text>
<text class="s" x="224.2" y="278.8" text-anchor="middle" textLength="27.2" lengthAdjust="spacingAndGlyphs">NH:1.0</text>
<text class="s" x="224.2" y="288.9" text-anchor="middle" textLength="26.6" lengthAdjust="spacingAndGlyphs">SH:0.2</text>
<text class="s" x="372.4" y="284.9" text-anchor="middle" textLength="38.4" lengthAdjust="spacingAndGlyphs">mean:0.6</text>
<g transform="translate(405.6,175.9)">
<g clip-path="url(#clip)">
<use href="#bnd" fill="#053061"/>
<path d="M46.2 99.5l104 0 5.8-1.9 6.1-2.5 4.7-2.4 4.2-2.6 5.4-3.8 4.9-4.1 3-3 3.6-4.2 2.2-3.1 2.1-3.7 1.5-3.7 1.4-5.5 .7-4.3 .3-5-.2-4.3-.7-4.3-1.4-5.6-1.3-3.7-3.2-5.5-3.9-4.9-4.1-4.2-5.7-4.6-6.3-4.3-5.2-3-7.1-3.1-6.8-2.2-104.3 0-5.8 1.9-6.1 2.4-3.8 2-3.4 2-4.8 3.2-4.4 3.4-5.8 5.3-3.2 3.7-2.2 3-1.8 3.1-1.5 3.1-1 3.1-1.2 4.9-.6 3.7-.3 4.3 .5 6.8 .6 3.7 1.2 4.3 1.9 4.9 1.8 3.1 2.2 3.1 5.4 6 6.9 5.8 4.6 3.3 4.2 2.6 3.7 1.9 5.1 2.3 4.7 1.7ZM122.3 91.2l-3.3-.1-6.1-.4-.3-.1-.2-.5 6.5-.5 2.8 .2 3.9-.4 1.5 .2 1.1 .5-.1 .5-2 .7Z" fill="#195696" fill-rule="evenodd"/>
<path d="M46.2 99.5l104 0 5.8-1.9 6.1-2.5 4.9-2.5-1.3 0-1.3-.3-4.7 .8-3.7-.1-3.4 .5-2.4-.1-2.6 .3-11.1-.1-2.9 .2-4.1-.3-5.3 .5-3-.4-7.3 .4-4.4-.1-2.5-.3-3 .2-4.5-.3-4.8 .7-3.4-.8-3.8-.2-4.5 .1-2.8-.4-3 .1-4.8-1-2.1-.8-.4-.6 .3-.5 .8-.5 2.8-.2 4.5-1.3 13.4-.6 3 .2 5.5-.4 5.1 .2 7.3-.4 5.6 0 13.7 0 8.7 .5 7.9-.3 5.3 .2 3 .4 4.6 0 2.1 .4 3.8 0 2.3 .7 3.3-.2 7.7-6 5.3-5.4 2.5-3 2.1-3.1 1.7-3.1 1.3-3.1 2-8 .5-4.3 .1-3.7-.3-4.3-.7-4.3-1.4-5.6-1.2-3.1-3.2-5.5-3.9-4.9-4.1-4.2-5.7-4.6-6.3-4.3-5.2-3-7.1-3.1-6.8-2.2-104.3 0-5.8 1.9-6.1 2.4-3.8 2-3.4 2-4.8 3.2-4.4 3.4-5.8 5.3-3.2 3.7-2.2 3-1.8 3.1-1.5 3.1-1 3.1-1.2 4.9-.6 3.7-.3 4.3 .5 6.8 .6 3.7 1.2 4.3 1.9 4.9 1.8 3.1 2.2 3.1 5.4 6 4.7 4.1 4.9 3.7 2.7 .4 2.1 .1 4.2 .9 1.7 .1 1.9 .8 .6 .6-.2 .3-2.1-.2-5 .8 .2 .1 3.7 1.9 5.1 2.3 4.7 1.7Z" fill="#2f79b5" fill-rule="evenodd"/>
<path d="M40.4 84.6l1.4 .1 1.8-.6 3.4-.3 7.1 .6 2.4-.5 5.6 .3 1.7-1.1 .6-1.8 .5 .1 3 1.8 2.3 .9 .9 .2 2.4-.9 2.2-.2 4.2 .4 7.3 .2 5-.2 2.7 .6 5-.7 4.5 .1 2.2 .5 1.4 0 4.2-.9 2.8-.2 3 .5 8.5 .3 2.8 0 3.9-.6 2.9 .5 3.3-.3 3.7 .6 4.7-.9 1.7 .8 1.3 .1 8-.4 4.2 .4 3.9-.8 2.4-.1 .8 .1 1.1 .7 .7 .2 4 0 2.9-.5 .8 0 4.7-4.4 4.6-5.4 3-5 1.9-4.9 1.7-6.8 .6-7.4-.6-7.4-1.8-7.4-1.5-3.7-2.1-3.7-2.2-3-3.6-4.3-3-3-3.5-2.9-4.5-3.3-4.9-3.3 3 2.2 .8 1.1 0 .4-.8 .3-2 .1-3.6-.8-1.2 1.1-1.4 .2-2.7-.4-2.6-.2-2.9-.6-1.7 .3-2.5 0-4.2-.8-1 .2-1.2 .6-.8 .1-4.6-1.1-.9-.1-1 .3-.9 .9 0 .6 .5 1.1 1.2 1.2 2.7 1.3 3.1 .6 2.3 .7 2.5 .3 .4-.1 .4-.5-1-1.8 .1-.2 .8 .2 .6 .6 .8 4.1 1.1 3-.2 .9-.6 .7-2.9 1.4-8 .2-2.2-.6-4-2-1.4-1.2-2.2-3.1-2.3-1.7-4.6-1.6-2.6 .1-3.8-.6-.5-.3-1-1.6-.3-2.8-.6-1.6-1.5-1.8-1.1-.7-.6 0-.3 .5 1.3 2-.5 2-.5 1.3-1.1 .8-.9-.2-1.4-1.7-.7-.5-1.2 .3-1.6 1-1.3-.3-.5-.5-.7-1.6-1.1-1.6-2-1.2-1.1-.1-1.2 .9-.8 .3-1.2-.2-2.2-.8-.4 .2-.5 .9 .1 1.6-.1 .5-.4 .3-.8 .1-.6-1.1-.5-.4-1.9 0-4.5 1.6-3.5 2-1 .2-.8-.1-.7-.4-1-1.1-.8-1.5-.9 .1-3 3-.2 .6 .1 2.3-.2 1.2-.4 .5-1.1 .5-4.4 .6-2.8 .9-.3-.3-.1-.5 .5-2.3-.1-.7-.5 .1-2.1 2.9-1.8 1.3-1.1 .2-2.7-.3-3.2 .7-2.9-.9-2.8 0-3.1 .4-.9-.2-.7-1-1.6-5.1-.5-.4-3.1-.4-3.9 .1-.1-.3 .3-1.3-.5-.8 0-.4 1.8-2.2-2.4-1-1.2 .2-7.8 5.1-7 5.7-5.6 6.1-3.7 5.5-2.3 4.9-2 8-.6 7.4 .5 6.8 .8 3.7 1.3 4.9 1 2.5 1.6 3.1 2 3.1 3 3.6 2.8 3 3.5 3.3 2.1 .2 2.8-.3 3.4 .2 2.8-.4 3 .3 3.8-.2 3.1 .4ZM117.3 7.8l.9 .3 .6-.3-.6-1-1-.8-.5 .3-.1 .5Z" fill="#4c99c6" fill-rule="evenodd"/>
<path d="M4 60.4l2.7 .1 3-1.1 1.6-.2 2.7 .2 2.9 .8 1.6 0 2-.5 1.9-1.6 2.7-1 .4-.6-.5-.6-1.9-1-8.8-1.1-3.3-1.5-.6 .1-1.5 1.1-1.1 .4-4.9-.7-2.7 0 .9 6.2ZM78.1 59.7l1.1-.3 .5-.5 3.7-4.9 .3-.6-.1-.6-1.3-1.5-4.6-1.6-.9-1.2-.2 .6 .8 1.4 .4 1.7 0 .6-.4 .6-1.1-.4-1.7-1.4-.5 .1-4.1 3-.4 .6-.2 1.2 .6 1.6 .5 .6 .6 .1 2.1-.4 2.2 .1 1.1 .3ZM191.7 59.9l.5 .3 .5-.1 2.3-.7 .9-6.3-3.2-.5-2.6-1.3-1.7 .1-1.1 .7-.4 .7-1.9 3.7-.3 1.2 .1 .7 .6 .6 1.1 .1 3.5-1.4 .5 .2ZM35.5 59l.5 0 .5-.4 .6-.9 0-.6-.8-.7-1.1 .1-.6 .6 .2 1.3ZM29.4 57.9l1.1 0 .2-.8-.9-.7-1.2 .1-.3 .6ZM183.6 49.2l1.1-1.9 .9-.7 1.1-.1 2.8 1 1.1 .1 1.6-.4 2.1-1.2 1.6-.1-.7-4.8-1.2-4.9-1-3.1-1.5-3.3-2.1 .1-2.1 1-1.4 .3-3.2-.2-3.5 .4-7.8-.8-.7 .5-.1 2-.7 .5-1.1-.2-2.4-.9-1.5 .1-1.4 .8-1.6 1.9-1.6 .4-4.7 .5-2.9 2-1.6-.1-3.4-1.3-1.6-.2-2.6 .4-3.1 1.3-2.1 .5-3.4-2-2.2-.6-1.6 .3-.7 .9-.4 1.2 .2 1.3 1.7 2.4 .9 2.7 .3 .4 .8 .4 3.3 .2 2.7 .6 2.2-.6 3.3 .4 3.2-.8 2.2 .1 2.1-.1 1.1 .2 2.3 1.2 1.1 .1 3.7-1 1.1 .1 1.7 .6 2.2 .2 1.6-.1 3.8-.7 1.6-.1 3.8 .4 2.2 .6 2.2-.2 .7 .4 1 1.6ZM.7 45.9l1.1-.2 2.2 .2 3.1-1.1 1.4-.2 2.6 1.1 1.1-.2 .7-.7 .3-.6-.3-2.5 .3-.4 .6-.2 1.5 1.1 .5-.1 2-2.1 1.1-.3 1.7-.1 1 .3 .8 1.4 .5 .3 .6-.4 .9-1.3 .9-2.4 .6-.4 .5 .3 .6 2.5 .7 1.2 1.1 .9 1.1 .2 .6-.5 1.8-4.6 .6-.3 1.4 1 1.6 .2 1.5-.6 .7-.6 .2-.6-1.4-3.7-1.8-2.1-.9-.5-.8 .1-1 .5-2.3 2.4-.6 0-.2-.8 0-1.5-.2-1-.3-.5-.8-.5-4 .9-1-.2-2.1-.9-1.1 .1-2.5 .9-3-.1-2.2-.9-1.5 0-3.4 1.6-2.6 0-1.7 3.7-1.6 5.5-1.1 6.8ZM71 43.1l1 .3 1.1-.2 1.7-3.3 1.2-.7 1.1 .3 1.9 1 2.8 2.4 .5 .1 .6-.3 2.7-2 2.8-2.5 1.8-5.7 2.1-2.7 .2-1-.3-.7-.8-.4-.5 0-2.1 1.3-1.1 .2-1-.5-1.9-1.6-3-.4-2.1 .2-3.2 .9-1 0-1.5-.5-2.2-1.4-1.4-.5-1.1 .1-3.3 1.1-4.4 .9-1 1.3 0 1.2 .2 1.2-.1 .6-1.7 1.6-.6 .9-.1 3.1-.7 1.8 0 1 .3 .3 .8 .1 2.1 0 6.5 .7 1 .4ZM47.9 36.3l.5 .1 1.1-.2 .9-.7 .6-1.2-.6-.6-.9-.3-1.1-.1-.6 .4-.5 1.2 .2 .8ZM101.5 23.4l1 .1 2.9-.8 1.9-2.5-.1-.6-.7-.6-1.4-.5-5.2-.7-1.9 1.2-2.3 0-.8 .6-.4 .6-.1 1.2 .7 .6 .5 .1 1-.4 1.4-1.5 .5-.1 .5 .2 1 .9Z" fill="#87beda" fill-rule="evenodd"/>
<path d="M160.2 41.1l.5 .3 .5-.3-.6-.6Z" fill="#b6d7e8" fill-rule="evenodd"/>
<use href="#coast" fill="none" stroke="#000" stroke-width="0.55" stroke-linejoin="round"/>
</g>
<use href="#bnd" fill="none" stroke="#000" stroke-width="0.6"/>
</g>
<text class="l" x="402.7" y="166.8" textLength="8.3" lengthAdjust="spacingAndGlyphs">f)</text>
<text class="t" x="503.7" y="171.7" text-anchor="middle" textLength="128.4" lengthAdjust="spacingAndGlyphs">ΔTsurf CESM SEED only</text>
<text class="s" x="423.3" y="278.8" text-anchor="middle" textLength="29.9" lengthAdjust="spacingAndGlyphs">NH:-1.2</text>
<text class="s" x="423.3" y="288.9" text-anchor="middle" textLength="29.3" lengthAdjust="spacingAndGlyphs">SH:-1.5</text>
<text class="s" x="571.7" y="284.9" text-anchor="middle" textLength="41.0" lengthAdjust="spacingAndGlyphs">mean:-1.4</text>
<path d="M124.1,137.45L140.2,132.5V142.4Z" fill="#053061"/>
<rect x="140.20" y="132.5" width="25.32" height="9.90" fill="#195696"/>
<rect x="165.22" y="132.5" width="25.32" height="9.90" fill="#2f79b5"/>
<rect x="190.24" y="132.5" width="25.32" height="9.90" fill="#4c99c6"/>
<rect x="215.26" y="132.5" width="25.32" height="9.90" fill="#87beda"/>
<rect x="240.28" y="132.5" width="25.32" height="9.90" fill="#b6d7e8"/>
<rect x="265.30" y="132.5" width="25.32" height="9.90" fill="#dbeaf2"/>
<rect x="290.32" y="132.5" width="25.32" height="9.90" fill="#f7f6f6"/>
<rect x="315.34" y="132.5" width="25.32" height="9.90" fill="#fbe3d4"/>
<rect x="340.36" y="132.5" width="25.32" height="9.90" fill="#f9c4a9"/>
<rect x="365.38" y="132.5" width="25.32" height="9.90" fill="#f09c7b"/>
<rect x="390.40" y="132.5" width="25.32" height="9.90" fill="#da6853"/>
<rect x="415.42" y="132.5" width="25.32" height="9.90" fill="#c13639"/>
<rect x="440.44" y="132.5" width="25.32" height="9.90" fill="#9c1127"/>
<path d="M481.66,137.45L465.46,132.5V142.4Z" fill="#67001f"/>
<path d="M124.1,137.45L140.2,132.5H465.46L481.66,137.45L465.46,142.4H140.2Z" fill="none" stroke="#222" stroke-width="0.5"/>
<path d="M140.20,142.4v2" stroke="#000" stroke-width="0.5"/><text class="k" x="140.50" y="150.7" text-anchor="middle" textLength="14.4" lengthAdjust="spacingAndGlyphs">−4.0</text>
<path d="M165.22,142.4v2" stroke="#000" stroke-width="0.5"/><text class="k" x="165.52" y="150.7" text-anchor="middle" textLength="14.4" lengthAdjust="spacingAndGlyphs">−3.0</text>
<path d="M190.24,142.4v2" stroke="#000" stroke-width="0.5"/><text class="k" x="190.54" y="150.7" text-anchor="middle" textLength="14.4" lengthAdjust="spacingAndGlyphs">−2.0</text>
<path d="M215.26,142.4v2" stroke="#000" stroke-width="0.5"/><text class="k" x="215.56" y="150.7" text-anchor="middle" textLength="14.4" lengthAdjust="spacingAndGlyphs">−1.0</text>
<path d="M240.28,142.4v2" stroke="#000" stroke-width="0.5"/><text class="k" x="240.58" y="150.7" text-anchor="middle" textLength="14.4" lengthAdjust="spacingAndGlyphs">−0.5</text>
<path d="M265.30,142.4v2" stroke="#000" stroke-width="0.5"/><text class="k" x="265.60" y="150.7" text-anchor="middle" textLength="14.4" lengthAdjust="spacingAndGlyphs">−0.2</text>
<path d="M290.32,142.4v2" stroke="#000" stroke-width="0.5"/><text class="k" x="290.62" y="150.7" text-anchor="middle" textLength="14.4" lengthAdjust="spacingAndGlyphs">−0.1</text>
<path d="M315.34,142.4v2" stroke="#000" stroke-width="0.5"/><text class="k" x="315.64" y="150.7" text-anchor="middle" textLength="9.3" lengthAdjust="spacingAndGlyphs">0.1</text>
<path d="M340.36,142.4v2" stroke="#000" stroke-width="0.5"/><text class="k" x="340.66" y="150.7" text-anchor="middle" textLength="9.3" lengthAdjust="spacingAndGlyphs">0.2</text>
<path d="M365.38,142.4v2" stroke="#000" stroke-width="0.5"/><text class="k" x="365.68" y="150.7" text-anchor="middle" textLength="9.3" lengthAdjust="spacingAndGlyphs">0.5</text>
<path d="M390.40,142.4v2" stroke="#000" stroke-width="0.5"/><text class="k" x="390.70" y="150.7" text-anchor="middle" textLength="9.3" lengthAdjust="spacingAndGlyphs">1.0</text>
<path d="M415.42,142.4v2" stroke="#000" stroke-width="0.5"/><text class="k" x="415.72" y="150.7" text-anchor="middle" textLength="9.3" lengthAdjust="spacingAndGlyphs">2.0</text>
<path d="M440.44,142.4v2" stroke="#000" stroke-width="0.5"/><text class="k" x="440.74" y="150.7" text-anchor="middle" textLength="9.3" lengthAdjust="spacingAndGlyphs">3.0</text>
<path d="M465.46,142.4v2" stroke="#000" stroke-width="0.5"/><text class="k" x="465.76" y="150.7" text-anchor="middle" textLength="9.3" lengthAdjust="spacingAndGlyphs">4.0</text>
<text class="k" x="303.2" y="159.5" text-anchor="middle" style="font-size:7.7px" textLength="8.4" lengthAdjust="spacingAndGlyphs">°C</text>
</svg>
</body></html>
